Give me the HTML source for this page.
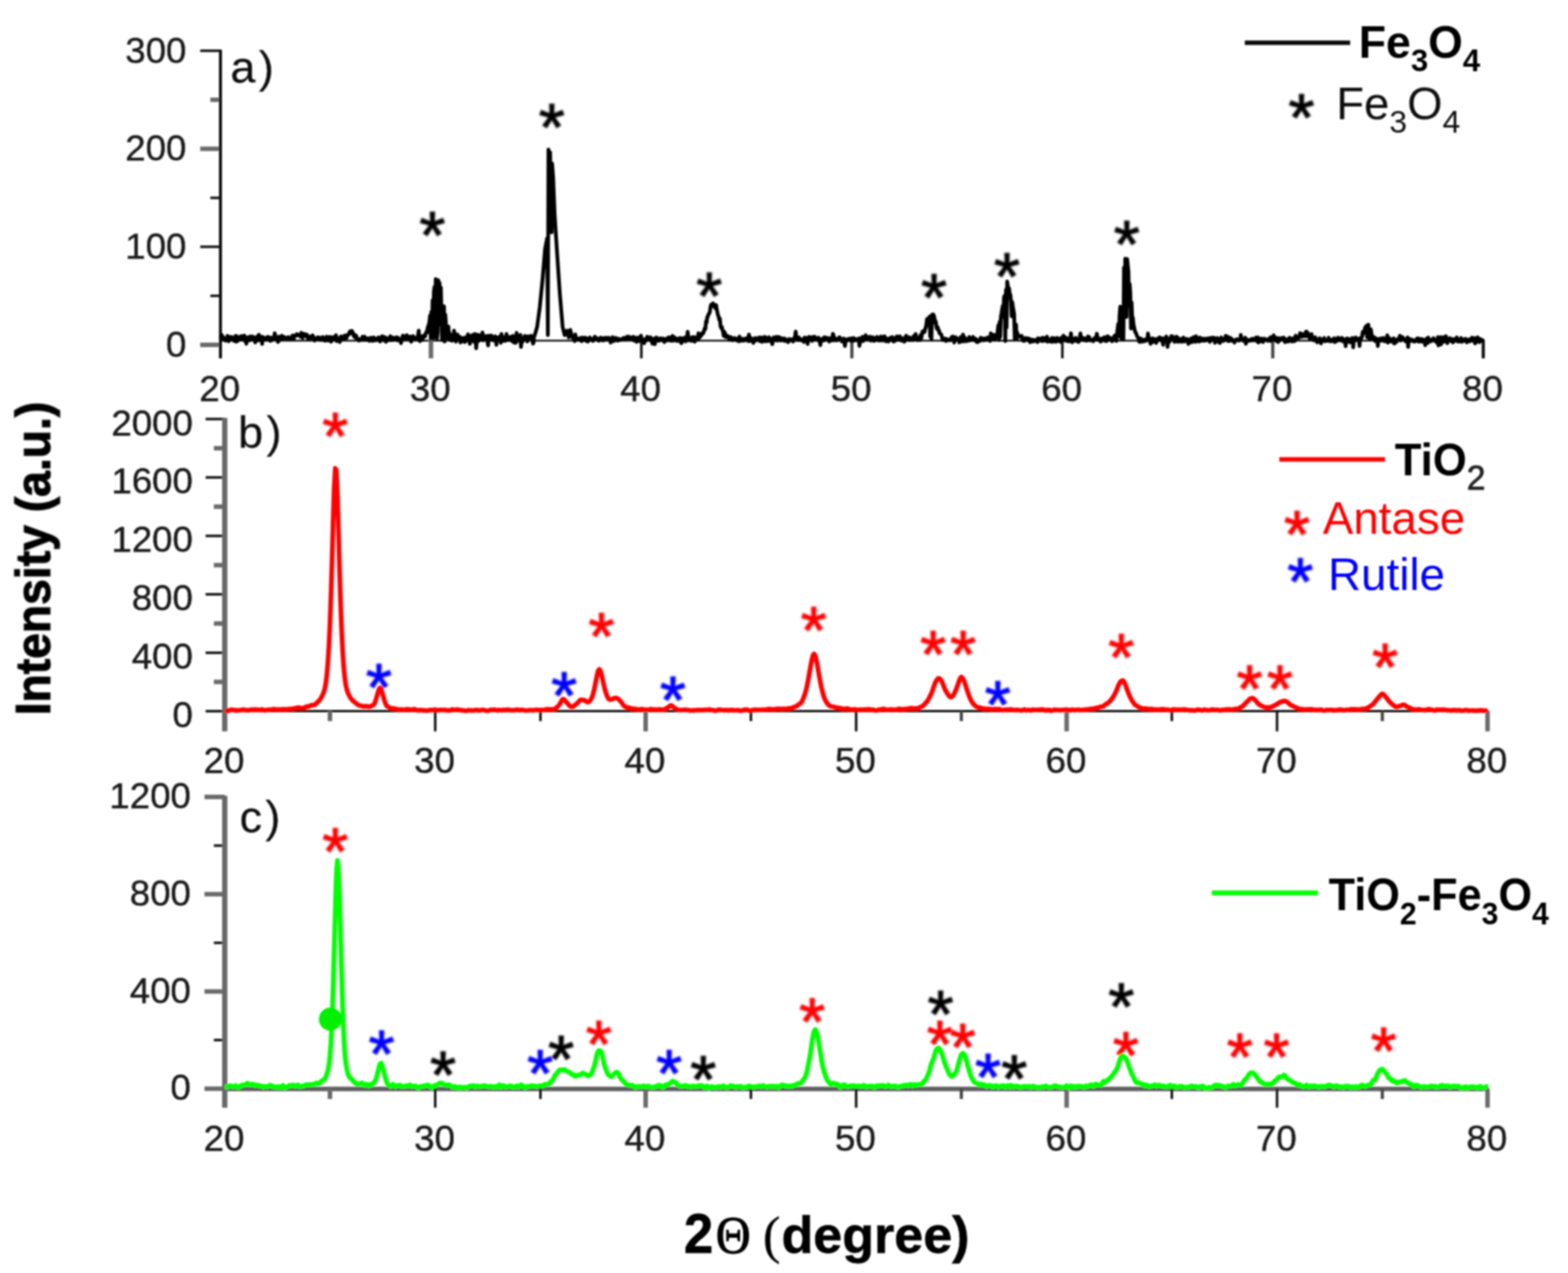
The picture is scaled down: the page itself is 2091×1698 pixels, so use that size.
<!DOCTYPE html>
<html lang="en"><head><meta charset="utf-8"><title>XRD patterns</title>
<style>html,body{margin:0;padding:0;background:#fff}body{width:2091px;height:1698px;overflow:hidden}svg{display:block}</style>
</head><body>
<svg width="2091" height="1698" viewBox="0 0 2091 1698" font-family='"Liberation Sans", sans-serif'>
<defs><filter id="bl" x="-2%" y="-2%" width="104%" height="104%"><feGaussianBlur stdDeviation="1.1"/></filter><filter id="bs" x="-50%" y="-50%" width="200%" height="200%"><feGaussianBlur stdDeviation="0.9"/></filter></defs>
<rect width="2091" height="1698" fill="#fff"/>
<g filter="url(#bl)">
<path d="M294.0 454.4 H1979.5" stroke="#000" stroke-width="2.4" fill="none"/>
<path d="M267.0 460.0 H294.0" stroke="#6b6b6b" stroke-width="6.0" fill="none"/>
<path d="M280.5 394.6 H294.0" stroke="#0c0c0c" stroke-width="3.3" fill="none"/>
<path d="M267.0 329.2 H294.0" stroke="#0c0c0c" stroke-width="3.3" fill="none"/>
<path d="M280.5 263.9 H294.0" stroke="#0c0c0c" stroke-width="3.3" fill="none"/>
<path d="M267.0 198.5 H294.0" stroke="#6b6b6b" stroke-width="6.0" fill="none"/>
<path d="M280.5 133.1 H294.0" stroke="#6b6b6b" stroke-width="6.0" fill="none"/>
<path d="M267.0 67.7 H294.0" stroke="#0c0c0c" stroke-width="3.3" fill="none"/>
<path d="M574.7 454.4 V478.0" stroke="#6b6b6b" stroke-width="6.0" fill="none"/>
<path d="M855.3 454.4 V478.0" stroke="#0c0c0c" stroke-width="3.3" fill="none"/>
<path d="M1136.0 454.4 V478.0" stroke="#444" stroke-width="4.2" fill="none"/>
<path d="M1416.7 454.4 V478.0" stroke="#0c0c0c" stroke-width="3.3" fill="none"/>
<path d="M1697.3 454.4 V478.0" stroke="#444" stroke-width="4.2" fill="none"/>
<path d="M1978.0 454.4 V478.0" stroke="#111" stroke-width="4.2" fill="none"/>
<path d="M294.0 66.3 V478.0" stroke="#111" stroke-width="4.0" fill="none"/>
<g font-size="48" fill="#1a1a1a" stroke="#1a1a1a" stroke-width="0.5">
<text transform="translate(248.6 475.8) scale(1.020 1)" text-anchor="end">0</text>
<text transform="translate(248.6 345.0) scale(1.020 1)" text-anchor="end">100</text>
<text transform="translate(248.6 214.2) scale(1.020 1)" text-anchor="end">200</text>
<text transform="translate(248.6 83.5) scale(1.020 1)" text-anchor="end">300</text>
<text transform="translate(293.0 535.1) scale(1.020 1)" text-anchor="middle">20</text>
<text transform="translate(573.7 535.1) scale(1.020 1)" text-anchor="middle">30</text>
<text transform="translate(854.3 535.1) scale(1.020 1)" text-anchor="middle">40</text>
<text transform="translate(1135.0 535.1) scale(1.020 1)" text-anchor="middle">50</text>
<text transform="translate(1415.7 535.1) scale(1.020 1)" text-anchor="middle">60</text>
<text transform="translate(1696.3 535.1) scale(1.020 1)" text-anchor="middle">70</text>
<text transform="translate(1977.0 535.1) scale(1.020 1)" text-anchor="middle">80</text>
</g>
<text x="307.3" y="110.3" font-size="60.0" fill="#111" letter-spacing="4.5" stroke="#111" stroke-width="0.3">a)</text>
<text x="576.6" y="344.3" font-size="89" fill="#000" stroke="#000" stroke-width="1.3" text-anchor="middle" filter="url(#bs)">*</text>
<text x="735.7" y="199.7" font-size="89" fill="#000" stroke="#000" stroke-width="1.3" text-anchor="middle" filter="url(#bs)">*</text>
<text x="945.7" y="424.6" font-size="89" fill="#000" stroke="#000" stroke-width="1.3" text-anchor="middle" filter="url(#bs)">*</text>
<text x="1245.5" y="426.6" font-size="89" fill="#000" stroke="#000" stroke-width="1.3" text-anchor="middle" filter="url(#bs)">*</text>
<text x="1342.9" y="399.0" font-size="89" fill="#000" stroke="#000" stroke-width="1.3" text-anchor="middle" filter="url(#bs)">*</text>
<text x="1502.6" y="355.5" font-size="89" fill="#000" stroke="#000" stroke-width="1.3" text-anchor="middle" filter="url(#bs)">*</text>
<path d="M294.0 451.2 L294.8 449.1 L295.7 446.9 L296.5 451.9 L297.4 449.3 L298.2 451.4 L299.1 452.0 L299.9 452.2 L300.7 454.4 L301.6 451.8 L302.4 451.3 L303.3 448.0 L304.1 452.1 L304.9 455.1 L305.8 454.0 L306.6 449.4 L307.5 450.8 L308.3 452.0 L309.2 449.5 L310.0 451.8 L310.8 453.2 L311.7 451.5 L312.5 454.8 L313.4 453.4 L314.2 447.9 L315.1 455.8 L315.9 448.4 L316.7 455.0 L317.6 451.7 L318.4 452.6 L319.3 451.5 L320.1 450.8 L320.9 448.6 L321.8 449.7 L322.6 452.3 L323.5 448.4 L324.3 451.8 L325.2 451.8 L326.0 447.6 L326.8 454.9 L327.7 451.7 L328.5 458.5 L329.4 451.8 L330.2 450.0 L331.0 452.3 L331.9 450.0 L332.7 454.1 L333.6 448.8 L334.4 451.8 L335.3 452.2 L336.1 451.8 L336.9 448.9 L337.8 452.7 L338.6 450.9 L339.5 450.1 L340.3 456.7 L341.2 452.3 L342.0 452.0 L342.8 453.9 L343.7 448.2 L344.5 453.9 L345.4 446.4 L346.2 453.8 L347.0 450.8 L347.9 452.1 L348.7 449.8 L349.6 458.8 L350.4 449.3 L351.3 451.0 L352.1 452.7 L352.9 451.7 L353.8 452.3 L354.6 450.5 L355.5 453.2 L356.3 452.8 L357.2 449.2 L358.0 451.3 L358.8 450.5 L359.7 450.2 L360.5 454.7 L361.4 450.5 L362.2 453.9 L363.0 450.4 L363.9 450.4 L364.7 452.5 L365.6 449.9 L366.4 444.4 L367.3 452.0 L368.1 451.6 L368.9 451.9 L369.8 451.5 L370.6 456.2 L371.5 449.1 L372.3 454.2 L373.1 451.4 L374.0 451.0 L374.8 450.2 L375.7 447.8 L376.5 452.3 L377.4 451.3 L378.2 449.1 L379.0 451.0 L379.9 450.5 L380.7 450.6 L381.6 450.8 L382.4 451.6 L383.3 450.2 L384.1 451.3 L384.9 449.8 L385.8 451.0 L386.6 451.9 L387.5 450.8 L388.3 451.4 L389.1 450.9 L390.0 447.6 L390.8 452.1 L391.7 452.5 L392.5 447.6 L393.4 447.5 L394.2 447.0 L395.0 447.8 L395.9 445.7 L396.7 446.7 L397.6 446.5 L398.4 447.0 L399.3 446.6 L400.1 448.8 L400.9 447.0 L401.8 443.9 L402.6 445.6 L403.5 450.8 L404.3 447.3 L405.1 445.3 L406.0 446.4 L406.8 445.9 L407.7 448.5 L408.5 448.3 L409.4 446.4 L410.2 450.8 L411.0 452.3 L411.9 449.6 L412.7 452.0 L413.6 448.9 L414.4 450.1 L415.2 449.7 L416.1 450.1 L416.9 447.3 L417.8 450.4 L418.6 452.6 L419.5 454.2 L420.3 451.1 L421.1 451.8 L422.0 451.5 L422.8 452.2 L423.7 449.9 L424.5 450.8 L425.4 451.4 L426.2 450.4 L427.0 451.5 L427.9 453.4 L428.7 452.7 L429.6 450.0 L430.4 449.7 L431.2 451.9 L432.1 452.7 L432.9 454.4 L433.8 454.2 L434.6 451.3 L435.5 449.1 L436.3 449.8 L437.1 454.3 L438.0 450.5 L438.8 450.8 L439.7 449.3 L440.5 453.2 L441.4 455.8 L442.2 454.6 L443.0 449.7 L443.9 451.5 L444.7 451.2 L445.6 450.8 L446.4 450.1 L447.2 448.1 L448.1 447.2 L448.9 455.0 L449.8 450.9 L450.6 454.5 L451.5 451.2 L452.3 452.1 L453.1 456.2 L454.0 451.3 L454.8 448.7 L455.7 450.8 L456.5 452.7 L457.3 450.4 L458.2 448.8 L459.0 451.5 L459.9 447.5 L460.7 451.0 L461.6 451.1 L462.4 450.1 L463.2 447.1 L464.1 446.0 L464.9 446.4 L465.8 444.7 L466.6 442.1 L467.5 444.8 L468.3 444.0 L469.1 441.3 L470.0 442.5 L470.8 444.4 L471.7 447.9 L472.5 449.2 L473.3 446.7 L474.2 450.5 L475.0 447.7 L475.9 452.0 L476.7 451.5 L477.6 452.0 L478.4 454.3 L479.2 453.2 L480.1 453.7 L480.9 452.2 L481.8 452.4 L482.6 453.1 L483.5 449.1 L484.3 452.9 L485.1 453.3 L486.0 449.0 L486.8 450.4 L487.7 451.8 L488.5 453.4 L489.3 451.3 L490.2 452.0 L491.0 451.4 L491.9 453.3 L492.7 454.7 L493.6 452.5 L494.4 450.5 L495.2 450.7 L496.1 451.1 L496.9 454.6 L497.8 454.3 L498.6 450.1 L499.5 452.5 L500.3 452.2 L501.1 454.0 L502.0 452.1 L502.8 451.6 L503.7 452.1 L504.5 450.0 L505.3 452.2 L506.2 455.0 L507.0 455.4 L507.9 450.3 L508.7 453.3 L509.6 448.5 L510.4 451.6 L511.2 453.7 L512.1 452.0 L512.9 449.6 L513.8 451.2 L514.6 455.9 L515.4 453.5 L516.3 451.0 L517.1 454.1 L518.0 451.6 L518.8 451.0 L519.7 453.3 L520.5 448.4 L521.3 450.1 L522.2 453.6 L523.0 451.8 L523.9 453.4 L524.7 450.4 L525.6 453.2 L526.4 451.3 L527.2 451.4 L528.1 450.6 L528.9 449.9 L529.8 454.0 L530.6 450.5 L531.4 451.6 L532.3 453.6 L533.1 452.0 L534.0 453.4 L534.8 457.7 L535.7 452.4 L536.5 450.3 L537.3 447.6 L538.2 452.4 L539.0 452.5 L539.9 450.3 L540.7 448.5 L541.6 448.9 L542.4 447.1 L543.2 450.5 L544.1 452.0 L544.9 450.4 L545.8 449.5 L546.6 448.9 L547.4 450.8 L548.3 455.9 L549.1 450.8 L550.0 452.1 L550.8 448.4 L551.7 449.4 L552.5 450.2 L553.3 451.3 L554.2 451.7 L555.0 451.1 L555.9 451.6 L556.7 450.2 L557.5 447.0 L558.4 441.0 L559.2 453.7 L560.1 455.0 L560.9 448.6 L561.8 453.4 L562.6 451.0 L563.4 453.3 L564.3 447.9 L565.1 447.7 L566.0 449.0 L566.8 449.0 L567.7 445.0 L568.5 442.9 L569.3 443.6 L570.2 437.8 L571.0 435.4 L571.9 432.8 L572.7 429.1 L573.5 421.1 L574.4 451.1 L575.2 416.0 L576.1 449.1 L576.9 400.6 L577.8 451.2 L578.6 389.5 L579.4 382.8 L580.3 410.0 L581.1 372.3 L582.0 443.6 L582.8 451.5 L583.7 442.4 L584.5 373.7 L585.3 427.9 L586.2 377.3 L587.0 433.0 L587.9 383.4 L588.7 414.9 L589.5 453.4 L590.4 452.8 L591.2 450.1 L592.1 408.5 L592.9 455.6 L593.8 419.4 L594.6 430.3 L595.4 450.5 L596.3 441.6 L597.1 448.3 L598.0 435.6 L598.8 452.2 L599.6 444.2 L600.5 453.4 L601.3 447.9 L602.2 447.7 L603.0 454.5 L603.9 446.9 L604.7 452.3 L605.5 441.1 L606.4 452.1 L607.2 452.3 L608.1 455.6 L608.9 451.3 L609.8 445.9 L610.6 448.6 L611.4 452.5 L612.3 451.6 L613.1 449.1 L614.0 456.8 L614.8 455.6 L615.6 453.7 L616.5 455.3 L617.3 450.9 L618.2 451.7 L619.0 451.5 L619.9 456.2 L620.7 449.9 L621.5 454.8 L622.4 451.4 L623.2 451.4 L624.1 446.0 L624.9 449.5 L625.8 451.6 L626.6 458.6 L627.4 455.2 L628.3 448.4 L629.1 447.7 L630.0 446.9 L630.8 454.4 L631.6 450.9 L632.5 456.2 L633.3 445.4 L634.2 448.2 L635.0 464.6 L635.9 452.8 L636.7 446.6 L637.5 453.5 L638.4 454.7 L639.2 447.1 L640.1 453.1 L640.9 450.5 L641.8 448.8 L642.6 452.9 L643.4 443.6 L644.3 454.0 L645.1 450.1 L646.0 450.5 L646.8 452.0 L647.6 448.2 L648.5 449.9 L649.3 448.4 L650.2 456.5 L651.0 460.7 L651.9 447.8 L652.7 453.8 L653.5 452.6 L654.4 448.7 L655.2 447.6 L656.1 452.2 L656.9 451.6 L657.7 453.9 L658.6 454.0 L659.4 449.4 L660.3 448.6 L661.1 451.2 L662.0 459.9 L662.8 450.8 L663.6 450.5 L664.5 449.9 L665.3 450.9 L666.2 449.4 L667.0 452.2 L667.9 457.2 L668.7 445.4 L669.5 449.7 L670.4 454.8 L671.2 452.6 L672.1 450.1 L672.9 451.8 L673.7 454.7 L674.6 454.0 L675.4 445.5 L676.3 450.9 L677.1 453.4 L678.0 453.5 L678.8 453.3 L679.6 449.4 L680.5 449.5 L681.3 452.8 L682.2 454.5 L683.0 454.0 L683.9 447.9 L684.7 456.4 L685.5 453.8 L686.4 451.2 L687.2 457.3 L688.1 457.0 L688.9 444.1 L689.7 453.8 L690.6 453.4 L691.4 451.9 L692.3 448.3 L693.1 455.0 L694.0 446.8 L694.8 462.8 L695.6 453.4 L696.5 456.4 L697.3 453.4 L698.2 453.7 L699.0 450.4 L699.8 448.2 L700.7 450.6 L701.5 449.4 L702.4 449.2 L703.2 455.4 L704.1 448.4 L704.9 450.5 L705.7 450.0 L706.6 451.0 L707.4 450.9 L708.3 447.8 L709.1 451.2 L710.0 452.5 L710.8 458.3 L711.6 456.8 L712.0 450.0 L714.0 444.0 L716.3 436.0 L719.8 410.0 L723.4 374.0 L726.9 332.0 L729.6 318.0 L730.6 447.0 L731.4 199.4 L732.6 300.0 L733.6 203.0 L735.6 310.0 L736.2 218.0 L737.6 236.0 L739.6 286.0 L743.0 339.0 L746.6 392.0 L750.3 436.0 L753.0 447.0 L756.0 441.0 L758.5 450.0 L760.5 440.0 L763.0 450.0 L763.8 449.4 L764.7 451.1 L765.5 452.9 L766.4 454.9 L767.2 446.1 L768.1 453.1 L768.9 452.6 L769.7 451.1 L770.6 452.9 L771.4 451.5 L772.3 452.2 L773.1 453.4 L773.9 452.1 L774.8 450.6 L775.6 455.1 L776.5 453.2 L777.3 450.4 L778.2 453.5 L779.0 452.8 L779.8 453.5 L780.7 450.4 L781.5 454.6 L782.4 453.5 L783.2 452.7 L784.0 455.6 L784.9 451.3 L785.7 453.0 L786.6 450.1 L787.4 453.0 L788.3 452.0 L789.1 453.7 L789.9 453.3 L790.8 454.7 L791.6 451.8 L792.5 450.6 L793.3 449.2 L794.2 452.7 L795.0 451.6 L795.8 451.1 L796.7 451.4 L797.5 453.7 L798.4 454.5 L799.2 452.5 L800.0 452.6 L800.9 450.4 L801.7 452.4 L802.6 452.0 L803.4 454.0 L804.3 451.0 L805.1 453.9 L805.9 451.9 L806.8 450.7 L807.6 450.8 L808.5 452.8 L809.3 450.6 L810.2 452.8 L811.0 452.9 L811.8 450.5 L812.7 451.7 L813.5 453.6 L814.4 456.9 L815.2 452.8 L816.0 453.5 L816.9 449.7 L817.7 453.3 L818.6 455.0 L819.4 453.2 L820.3 451.5 L821.1 450.7 L821.9 452.5 L822.8 453.7 L823.6 454.4 L824.5 451.9 L825.3 453.8 L826.2 452.7 L827.0 452.4 L827.8 453.2 L828.7 453.0 L829.5 452.4 L830.4 452.7 L831.2 450.8 L832.0 451.9 L832.9 450.7 L833.7 452.8 L834.6 451.4 L835.4 452.4 L836.3 449.0 L837.1 452.1 L837.9 450.7 L838.8 449.2 L839.6 449.8 L840.5 450.5 L841.3 452.3 L842.1 451.8 L843.0 451.7 L843.8 449.5 L844.7 449.2 L845.5 454.3 L846.4 453.1 L847.2 452.6 L848.0 450.7 L848.9 456.1 L849.7 451.8 L850.6 450.4 L851.4 454.6 L852.3 455.0 L853.1 453.2 L853.9 449.4 L854.8 447.8 L855.6 452.2 L856.5 453.2 L857.3 453.0 L858.1 452.8 L859.0 457.8 L859.8 452.8 L860.7 452.8 L861.5 454.4 L862.4 450.6 L863.2 449.1 L864.0 452.4 L864.9 452.1 L865.7 451.3 L866.6 453.7 L867.4 449.9 L868.3 452.0 L869.1 453.5 L869.9 458.4 L870.8 452.9 L871.6 451.8 L872.5 454.5 L873.3 459.1 L874.1 451.8 L875.0 450.2 L875.8 450.4 L876.7 452.3 L877.5 454.4 L878.4 453.5 L879.2 454.3 L880.0 451.5 L880.9 451.2 L881.7 452.6 L882.6 453.5 L883.4 452.4 L884.2 451.6 L885.1 451.9 L885.9 456.3 L886.8 452.6 L887.6 452.5 L888.5 452.2 L889.3 451.3 L890.1 454.1 L891.0 453.1 L891.8 450.0 L892.7 450.1 L893.5 450.4 L894.4 454.6 L895.2 450.3 L896.0 449.8 L896.9 448.2 L897.7 454.4 L898.6 452.4 L899.4 449.9 L900.2 450.8 L901.1 453.8 L901.9 451.5 L902.8 454.8 L903.6 451.9 L904.5 452.0 L905.3 451.4 L906.1 454.9 L907.0 450.8 L907.8 455.6 L908.7 457.7 L909.5 453.4 L910.4 451.2 L911.2 454.1 L912.0 451.7 L912.9 454.7 L913.7 449.9 L914.6 455.4 L915.4 449.8 L916.2 449.8 L917.1 442.6 L917.9 449.8 L918.8 450.3 L919.6 454.2 L920.5 452.3 L921.3 454.0 L922.1 454.5 L923.0 449.7 L923.8 454.3 L924.7 450.1 L925.5 449.7 L926.3 455.7 L927.2 454.5 L928.0 450.2 L928.9 452.8 L929.7 450.6 L930.6 452.9 L931.4 444.4 L932.2 451.0 L933.1 448.3 L933.9 449.2 L934.8 448.0 L935.6 445.6 L936.5 444.3 L937.3 445.0 L938.1 443.9 L939.0 440.8 L939.8 437.8 L940.7 438.7 L941.5 428.6 L942.3 430.4 L943.2 422.8 L944.0 422.1 L944.9 419.0 L945.7 418.2 L946.6 416.2 L947.4 410.1 L948.2 406.5 L949.1 407.9 L949.9 408.2 L950.8 404.6 L951.6 406.2 L952.5 409.0 L953.3 406.8 L954.1 411.3 L955.0 406.9 L955.8 412.6 L956.7 416.8 L957.5 420.6 L958.3 422.1 L959.2 426.9 L960.0 425.0 L960.9 435.2 L961.7 437.3 L962.6 436.1 L963.4 440.1 L964.2 441.8 L965.1 448.1 L965.9 442.5 L966.8 444.3 L967.6 449.6 L968.5 447.2 L969.3 449.8 L970.1 448.4 L971.0 448.5 L971.8 450.0 L972.7 453.1 L973.5 449.8 L974.3 449.6 L975.2 452.3 L976.0 450.8 L976.9 453.9 L977.7 451.5 L978.6 452.9 L979.4 450.8 L980.2 452.5 L981.1 451.6 L981.9 453.9 L982.8 453.4 L983.6 452.2 L984.4 451.5 L985.3 455.3 L986.1 449.0 L987.0 453.7 L987.8 454.4 L988.7 454.4 L989.5 452.6 L990.3 452.0 L991.2 453.8 L992.0 454.3 L992.9 452.2 L993.7 452.4 L994.6 451.4 L995.4 451.2 L996.2 452.3 L997.1 454.6 L997.9 451.7 L998.8 446.2 L999.6 454.9 L1000.4 450.1 L1001.3 453.7 L1002.1 454.6 L1003.0 451.8 L1003.8 453.7 L1004.7 457.4 L1005.5 451.9 L1006.3 452.3 L1007.2 450.9 L1008.0 454.3 L1008.9 452.8 L1009.7 452.9 L1010.6 451.4 L1011.4 452.4 L1012.2 450.2 L1013.1 455.0 L1013.9 454.9 L1014.8 451.1 L1015.6 450.1 L1016.4 455.9 L1017.3 451.0 L1018.1 452.6 L1019.0 451.0 L1019.8 449.4 L1020.7 455.4 L1021.5 450.1 L1022.3 452.1 L1023.2 452.8 L1024.0 454.9 L1024.9 451.2 L1025.7 449.8 L1026.5 453.6 L1027.4 452.4 L1028.2 455.8 L1029.1 453.4 L1029.9 459.1 L1030.8 451.6 L1031.6 450.2 L1032.4 450.6 L1033.3 454.0 L1034.1 450.7 L1035.0 449.4 L1035.8 452.3 L1036.7 454.2 L1037.5 451.7 L1038.3 449.4 L1039.2 453.4 L1040.0 451.2 L1040.9 454.1 L1041.7 450.8 L1042.5 453.9 L1043.4 452.6 L1044.2 452.3 L1045.1 453.9 L1045.9 451.3 L1046.8 454.8 L1047.6 454.2 L1048.4 452.7 L1049.3 454.2 L1050.1 454.9 L1051.0 456.4 L1051.8 454.3 L1052.7 452.2 L1053.5 452.8 L1054.3 453.8 L1055.2 453.2 L1056.0 453.8 L1056.9 452.7 L1057.7 455.5 L1058.5 451.9 L1059.4 450.5 L1060.2 449.4 L1061.1 442.2 L1061.9 450.8 L1062.8 453.3 L1063.6 452.1 L1064.4 453.3 L1065.3 450.0 L1066.1 453.6 L1067.0 452.2 L1067.8 452.6 L1068.6 453.9 L1069.5 453.9 L1070.3 452.8 L1071.2 454.2 L1072.0 456.1 L1072.9 450.3 L1073.7 451.4 L1074.5 453.0 L1075.4 453.2 L1076.2 450.9 L1077.1 458.7 L1077.9 451.6 L1078.8 449.4 L1079.6 449.7 L1080.4 451.7 L1081.3 451.9 L1082.1 453.5 L1083.0 454.7 L1083.8 449.4 L1084.6 452.3 L1085.5 449.9 L1086.3 449.1 L1087.2 451.1 L1088.0 452.9 L1088.9 451.9 L1089.7 451.6 L1090.5 452.3 L1091.4 450.3 L1092.2 455.2 L1093.1 453.2 L1093.9 460.3 L1094.8 453.8 L1095.6 452.5 L1096.4 454.2 L1097.3 454.3 L1098.1 450.8 L1099.0 454.0 L1099.8 449.9 L1100.6 451.0 L1101.5 452.3 L1102.3 450.6 L1103.2 452.1 L1104.0 452.7 L1104.9 451.1 L1105.7 455.6 L1106.5 453.0 L1107.4 453.9 L1108.2 450.7 L1109.1 454.1 L1109.9 452.8 L1110.7 445.3 L1111.6 447.3 L1112.4 453.9 L1113.3 452.5 L1114.1 451.4 L1115.0 452.6 L1115.8 454.1 L1116.6 453.3 L1117.5 453.3 L1118.3 451.9 L1119.2 449.9 L1120.0 450.1 L1120.9 453.1 L1121.7 452.5 L1122.5 455.3 L1123.4 454.3 L1124.2 453.5 L1125.1 451.6 L1125.9 455.7 L1126.7 461.5 L1127.6 455.6 L1128.4 452.7 L1129.3 454.4 L1130.1 454.1 L1131.0 452.7 L1131.8 451.8 L1132.6 452.7 L1133.5 452.9 L1134.3 451.7 L1135.2 455.1 L1136.0 451.2 L1136.9 454.8 L1137.7 451.9 L1138.5 450.9 L1139.4 454.3 L1140.2 452.9 L1141.1 452.4 L1141.9 453.2 L1142.7 453.9 L1143.6 452.6 L1144.4 453.1 L1145.3 451.4 L1146.1 461.4 L1147.0 451.2 L1147.8 454.0 L1148.6 453.6 L1149.5 455.0 L1150.3 449.2 L1151.2 454.8 L1152.0 452.8 L1152.9 452.2 L1153.7 451.8 L1154.5 447.1 L1155.4 452.1 L1156.2 452.6 L1157.1 449.6 L1157.9 450.9 L1158.7 452.7 L1159.6 452.7 L1160.4 449.1 L1161.3 454.4 L1162.1 450.8 L1163.0 450.1 L1163.8 449.9 L1164.6 450.2 L1165.5 454.8 L1166.3 451.8 L1167.2 453.7 L1168.0 450.8 L1168.8 451.0 L1169.7 449.5 L1170.5 451.8 L1171.4 454.2 L1172.2 451.2 L1173.1 454.0 L1173.9 452.0 L1174.7 448.9 L1175.6 454.2 L1176.4 454.2 L1177.3 451.4 L1178.1 449.4 L1179.0 452.6 L1179.8 448.6 L1180.6 455.0 L1181.5 455.1 L1182.3 451.6 L1183.2 452.8 L1184.0 451.8 L1184.8 455.6 L1185.7 452.8 L1186.5 452.5 L1187.4 450.7 L1188.2 452.0 L1189.1 453.7 L1189.9 449.6 L1190.7 450.4 L1191.6 455.5 L1192.4 453.6 L1193.3 454.8 L1194.1 453.0 L1195.0 451.5 L1195.8 448.7 L1196.6 449.5 L1197.5 453.2 L1198.3 451.8 L1199.2 453.2 L1200.0 448.6 L1200.8 451.8 L1201.7 450.8 L1202.5 454.4 L1203.4 452.9 L1204.2 453.2 L1205.1 451.1 L1205.9 455.8 L1206.7 450.8 L1207.6 451.8 L1208.4 447.7 L1209.3 453.2 L1210.1 451.5 L1210.9 451.9 L1211.8 453.2 L1212.6 449.9 L1213.5 453.6 L1214.3 452.6 L1215.2 451.0 L1216.0 452.9 L1216.8 452.5 L1217.7 453.6 L1218.5 448.2 L1219.4 449.6 L1220.2 452.3 L1221.1 445.4 L1221.9 453.0 L1222.7 452.3 L1223.6 453.6 L1224.4 452.2 L1225.3 450.2 L1226.1 451.5 L1226.9 453.5 L1227.8 446.7 L1228.6 451.3 L1229.5 445.5 L1230.3 442.0 L1231.2 442.1 L1232.0 441.5 L1232.8 443.1 L1233.7 438.7 L1234.5 436.9 L1235.4 432.6 L1236.2 425.5 L1237.1 428.6 L1237.9 426.3 L1238.7 425.1 L1239.6 422.2 L1240.4 449.0 L1241.3 422.1 L1242.1 452.7 L1242.9 419.7 L1243.8 420.4 L1244.6 419.5 L1245.5 421.3 L1246.3 425.2 L1247.2 430.9 L1248.0 428.9 L1248.8 436.7 L1249.7 438.9 L1250.5 436.4 L1251.4 440.5 L1252.2 440.7 L1253.0 444.7 L1253.9 444.9 L1254.7 445.5 L1255.6 447.4 L1256.4 450.6 L1257.3 453.5 L1258.1 452.0 L1258.9 451.8 L1259.8 451.6 L1260.6 451.8 L1261.5 454.9 L1262.3 453.0 L1263.2 452.6 L1264.0 452.7 L1264.8 453.8 L1265.7 453.8 L1266.5 454.0 L1267.4 453.7 L1268.2 451.8 L1269.0 449.8 L1269.9 451.2 L1270.7 448.8 L1271.6 452.1 L1272.4 456.9 L1273.3 453.7 L1274.1 449.7 L1274.9 450.9 L1275.8 450.9 L1276.6 452.0 L1277.5 452.5 L1278.3 452.9 L1279.2 456.6 L1280.0 456.1 L1280.8 449.8 L1281.7 451.5 L1282.5 455.4 L1283.4 453.2 L1284.2 446.2 L1285.0 455.4 L1285.9 449.4 L1286.7 450.8 L1287.6 454.9 L1288.4 455.1 L1289.3 452.4 L1290.1 453.5 L1290.9 452.5 L1291.8 454.4 L1292.6 449.5 L1293.5 451.6 L1294.3 451.4 L1295.1 453.6 L1296.0 452.9 L1296.8 452.7 L1297.7 449.4 L1298.5 453.6 L1299.4 451.8 L1300.2 452.4 L1301.0 451.8 L1301.9 455.7 L1302.7 453.3 L1303.6 456.4 L1304.4 455.7 L1305.3 454.8 L1306.1 453.5 L1306.9 454.7 L1307.8 450.5 L1308.6 453.4 L1309.5 453.1 L1310.3 452.4 L1311.1 451.6 L1312.0 454.0 L1312.8 451.5 L1313.7 453.3 L1314.5 452.0 L1315.4 453.0 L1316.2 451.2 L1317.0 450.1 L1317.9 453.2 L1318.7 450.9 L1319.6 453.0 L1320.4 454.8 L1321.3 444.6 L1322.1 451.5 L1322.9 452.4 L1323.8 448.4 L1324.6 451.1 L1325.5 446.6 L1326.3 452.9 L1327.1 451.6 L1328.0 448.0 L1328.8 446.3 L1329.7 449.5 L1330.5 440.7 L1331.4 433.7 L1332.2 453.4 L1333.0 429.6 L1333.9 449.4 L1334.7 422.4 L1335.6 417.9 L1336.4 412.2 L1337.3 407.9 L1338.1 423.0 L1338.9 396.3 L1339.8 394.3 L1340.6 455.0 L1341.5 386.6 L1342.3 437.0 L1343.1 375.5 L1344.0 381.0 L1344.8 385.3 L1345.7 384.8 L1346.5 392.2 L1347.4 393.0 L1348.2 401.4 L1349.0 422.0 L1349.9 403.0 L1350.7 408.9 L1351.6 414.0 L1352.4 419.2 L1353.2 452.6 L1354.1 450.6 L1354.9 432.8 L1355.8 452.5 L1356.6 443.5 L1357.5 450.1 L1358.3 447.4 L1359.1 448.1 L1360.0 448.8 L1360.8 448.3 L1361.7 448.8 L1362.5 448.1 L1363.4 453.6 L1364.2 454.1 L1365.0 451.5 L1365.9 454.7 L1366.7 452.7 L1367.6 450.8 L1368.4 452.7 L1369.2 453.5 L1370.1 453.5 L1370.9 451.2 L1371.8 451.6 L1372.6 452.7 L1373.5 456.4 L1374.3 452.8 L1375.1 455.3 L1376.0 453.1 L1376.8 455.7 L1377.7 453.4 L1378.5 454.9 L1379.4 455.1 L1380.2 453.6 L1381.0 453.3 L1381.9 453.7 L1382.7 454.1 L1383.6 456.3 L1384.4 451.1 L1385.2 454.0 L1386.1 452.1 L1386.9 453.9 L1387.8 452.7 L1388.6 451.4 L1389.5 454.9 L1390.3 450.5 L1391.1 454.9 L1392.0 450.9 L1392.8 453.9 L1393.7 452.2 L1394.5 454.5 L1395.3 450.7 L1396.2 449.0 L1397.0 455.8 L1397.9 452.7 L1398.7 453.9 L1399.6 452.8 L1400.4 452.5 L1401.2 455.7 L1402.1 454.6 L1402.9 450.7 L1403.8 456.1 L1404.6 452.0 L1405.5 451.2 L1406.3 454.1 L1407.1 455.2 L1408.0 455.8 L1408.8 452.9 L1409.7 450.5 L1410.5 454.8 L1411.3 453.8 L1412.2 454.4 L1413.0 453.5 L1413.9 455.9 L1414.7 450.7 L1415.6 451.8 L1416.4 452.6 L1417.2 453.4 L1418.1 447.8 L1418.9 454.1 L1419.8 450.5 L1420.6 449.8 L1421.5 452.3 L1422.3 454.6 L1423.1 453.9 L1424.0 451.3 L1424.8 455.2 L1425.7 453.8 L1426.5 455.0 L1427.3 451.8 L1428.2 444.4 L1429.0 452.2 L1429.9 456.6 L1430.7 452.7 L1431.6 452.3 L1432.4 452.3 L1433.2 454.3 L1434.1 450.7 L1434.9 450.7 L1435.8 455.1 L1436.6 454.2 L1437.4 453.9 L1438.3 456.1 L1439.1 453.9 L1440.0 450.3 L1440.8 444.7 L1441.7 453.5 L1442.5 450.4 L1443.3 453.0 L1444.2 450.8 L1445.0 453.6 L1445.9 453.9 L1446.7 451.3 L1447.6 452.0 L1448.4 453.2 L1449.2 454.3 L1450.1 453.2 L1450.9 448.8 L1451.8 450.5 L1452.6 449.6 L1453.4 454.1 L1454.3 453.5 L1455.1 453.2 L1456.0 453.6 L1456.8 453.5 L1457.7 455.2 L1458.5 452.8 L1459.3 451.0 L1460.2 451.4 L1461.0 453.0 L1461.9 450.4 L1462.7 445.1 L1463.6 450.0 L1464.4 452.9 L1465.2 451.5 L1466.1 454.3 L1466.9 452.3 L1467.8 455.6 L1468.6 452.2 L1469.4 451.3 L1470.3 452.2 L1471.1 453.9 L1472.0 453.8 L1472.8 449.8 L1473.7 453.9 L1474.5 454.8 L1475.3 452.1 L1476.2 454.7 L1477.0 448.6 L1477.9 453.3 L1478.7 449.7 L1479.6 451.4 L1480.4 451.9 L1481.2 451.1 L1482.1 453.0 L1482.9 455.1 L1483.8 454.6 L1484.6 452.6 L1485.4 449.8 L1486.3 447.9 L1487.1 447.4 L1488.0 448.9 L1488.8 454.7 L1489.7 444.3 L1490.5 437.5 L1491.3 431.9 L1492.2 448.6 L1493.0 421.5 L1493.9 409.1 L1494.7 438.0 L1495.5 452.1 L1496.4 452.2 L1497.2 429.0 L1498.1 453.1 L1498.9 357.0 L1499.8 419.7 L1500.6 345.0 L1501.4 419.7 L1502.3 422.7 L1503.1 345.5 L1504.0 354.4 L1504.8 362.2 L1505.7 407.3 L1506.5 378.8 L1507.3 390.4 L1508.2 438.3 L1509.0 403.3 L1509.9 424.9 L1510.7 423.7 L1511.5 432.1 L1512.4 436.4 L1513.2 440.6 L1514.1 443.3 L1514.9 444.1 L1515.8 446.8 L1516.6 449.0 L1517.4 449.8 L1518.3 451.5 L1519.1 455.7 L1520.0 451.4 L1520.8 456.1 L1521.7 451.7 L1522.5 453.2 L1523.3 454.1 L1524.2 455.6 L1525.0 454.2 L1525.9 453.9 L1526.7 452.9 L1527.5 454.8 L1528.4 453.8 L1529.2 454.1 L1530.1 452.0 L1530.9 444.8 L1531.8 450.5 L1532.6 451.0 L1533.4 453.9 L1534.3 458.5 L1535.1 453.5 L1536.0 453.5 L1536.8 451.4 L1537.6 456.1 L1538.5 453.4 L1539.3 452.0 L1540.2 453.8 L1541.0 454.0 L1541.9 457.4 L1542.7 454.7 L1543.5 451.9 L1544.4 452.1 L1545.2 452.8 L1546.1 450.0 L1546.9 451.9 L1547.8 453.9 L1548.6 452.3 L1549.4 451.2 L1550.3 454.5 L1551.1 460.0 L1552.0 451.4 L1552.8 452.7 L1553.6 454.1 L1554.5 452.1 L1555.3 448.9 L1556.2 452.0 L1557.0 462.7 L1557.9 453.3 L1558.7 452.5 L1559.5 456.0 L1560.4 451.7 L1561.2 449.8 L1562.1 448.5 L1562.9 450.0 L1563.8 448.8 L1564.6 452.4 L1565.4 453.0 L1566.3 456.0 L1567.1 454.9 L1568.0 455.1 L1568.8 449.0 L1569.6 450.4 L1570.5 450.2 L1571.3 456.0 L1572.2 451.6 L1573.0 454.3 L1573.9 454.0 L1574.7 453.8 L1575.5 455.8 L1576.4 451.7 L1577.2 455.6 L1578.1 450.3 L1578.9 453.4 L1579.7 455.4 L1580.6 454.4 L1581.4 454.5 L1582.3 452.0 L1583.1 452.2 L1584.0 454.3 L1584.8 458.7 L1585.6 454.9 L1586.5 453.2 L1587.3 455.4 L1588.2 451.5 L1589.0 456.6 L1589.9 455.8 L1590.7 453.1 L1591.5 449.9 L1592.4 451.6 L1593.2 451.3 L1594.1 456.1 L1594.9 448.4 L1595.7 450.9 L1596.6 454.9 L1597.4 452.1 L1598.3 452.7 L1599.1 455.6 L1600.0 450.2 L1600.8 451.2 L1601.6 454.6 L1602.5 454.1 L1603.3 454.2 L1604.2 451.5 L1605.0 454.3 L1605.9 454.5 L1606.7 451.8 L1607.5 454.2 L1608.4 453.5 L1609.2 451.9 L1610.1 453.7 L1610.9 451.2 L1611.7 451.9 L1612.6 452.0 L1613.4 456.0 L1614.3 450.8 L1615.1 453.7 L1616.0 451.5 L1616.8 450.4 L1617.6 450.8 L1618.5 453.8 L1619.3 450.6 L1620.2 457.2 L1621.0 452.1 L1621.8 454.2 L1622.7 454.1 L1623.5 450.9 L1624.4 453.4 L1625.2 456.4 L1626.1 452.9 L1626.9 457.5 L1627.7 453.7 L1628.6 450.1 L1629.4 454.1 L1630.3 453.0 L1631.1 454.8 L1632.0 454.4 L1632.8 452.0 L1633.6 453.6 L1634.5 447.9 L1635.3 451.7 L1636.2 453.2 L1637.0 448.9 L1637.8 454.9 L1638.7 450.4 L1639.5 454.8 L1640.4 450.5 L1641.2 453.1 L1642.1 454.0 L1642.9 452.0 L1643.7 454.7 L1644.6 454.5 L1645.4 455.5 L1646.3 456.9 L1647.1 454.1 L1648.0 454.3 L1648.8 452.7 L1649.6 452.5 L1650.5 453.3 L1651.3 453.2 L1652.2 454.3 L1653.0 453.1 L1653.8 453.5 L1654.7 446.7 L1655.5 452.3 L1656.4 452.4 L1657.2 453.0 L1658.1 454.6 L1658.9 452.3 L1659.7 453.4 L1660.6 450.3 L1661.4 458.5 L1662.3 455.8 L1663.1 452.9 L1664.0 454.5 L1664.8 453.7 L1665.6 454.1 L1666.5 454.6 L1667.3 453.1 L1668.2 453.4 L1669.0 454.0 L1669.8 451.8 L1670.7 453.2 L1671.5 454.0 L1672.4 454.1 L1673.2 451.5 L1674.1 451.8 L1674.9 450.4 L1675.7 453.9 L1676.6 455.7 L1677.4 450.0 L1678.3 456.8 L1679.1 455.1 L1679.9 452.0 L1680.8 455.3 L1681.6 453.5 L1682.5 451.7 L1683.3 453.5 L1684.2 456.3 L1685.0 454.4 L1685.8 451.7 L1686.7 454.0 L1687.5 452.4 L1688.4 453.5 L1689.2 453.3 L1690.1 452.6 L1690.9 454.6 L1691.7 452.9 L1692.6 452.3 L1693.4 451.4 L1694.3 449.9 L1695.1 455.0 L1695.9 453.0 L1696.8 453.1 L1697.6 451.6 L1698.5 447.2 L1699.3 451.5 L1700.2 450.6 L1701.0 454.5 L1701.8 450.6 L1702.7 452.5 L1703.5 451.2 L1704.4 456.4 L1705.2 451.1 L1706.1 453.2 L1706.9 453.8 L1707.7 451.3 L1708.6 451.9 L1709.4 450.9 L1710.3 452.6 L1711.1 452.9 L1711.9 450.4 L1712.8 451.9 L1713.6 456.4 L1714.5 455.5 L1715.3 452.8 L1716.2 452.7 L1717.0 454.3 L1717.8 455.7 L1718.7 454.3 L1719.5 450.5 L1720.4 454.5 L1721.2 452.6 L1722.0 451.6 L1722.9 455.5 L1723.7 453.5 L1724.6 451.5 L1725.4 450.9 L1726.3 455.1 L1727.1 454.3 L1727.9 447.8 L1728.8 450.0 L1729.6 450.1 L1730.5 451.1 L1731.3 451.2 L1732.2 450.6 L1733.0 448.0 L1733.8 444.4 L1734.7 447.3 L1735.5 445.4 L1736.4 449.3 L1737.2 448.4 L1738.0 445.8 L1738.9 447.3 L1739.7 447.6 L1740.6 448.7 L1741.4 442.4 L1742.3 442.3 L1743.1 448.3 L1743.9 443.8 L1744.8 448.7 L1745.6 447.4 L1746.5 451.7 L1747.3 448.7 L1748.2 446.3 L1749.0 445.7 L1749.8 451.2 L1750.7 451.3 L1751.5 453.2 L1752.4 454.1 L1753.2 452.1 L1754.0 449.9 L1754.9 452.4 L1755.7 453.9 L1756.6 456.6 L1757.4 454.7 L1758.3 454.2 L1759.1 452.8 L1759.9 451.1 L1760.8 454.8 L1761.6 458.0 L1762.5 453.3 L1763.3 454.7 L1764.1 454.5 L1765.0 454.6 L1765.8 450.7 L1766.7 455.1 L1767.5 453.9 L1768.4 454.7 L1769.2 454.1 L1770.0 453.7 L1770.9 454.6 L1771.7 450.5 L1772.6 453.4 L1773.4 454.0 L1774.3 455.3 L1775.1 453.3 L1775.9 453.1 L1776.8 453.2 L1777.6 455.0 L1778.5 453.5 L1779.3 451.1 L1780.1 456.4 L1781.0 453.4 L1781.8 453.1 L1782.7 455.0 L1783.5 452.7 L1784.4 450.3 L1785.2 453.3 L1786.0 452.5 L1786.9 453.8 L1787.7 452.2 L1788.6 454.1 L1789.4 450.6 L1790.3 453.5 L1791.1 455.3 L1791.9 453.3 L1792.8 452.7 L1793.6 453.7 L1794.5 461.7 L1795.3 454.6 L1796.1 451.5 L1797.0 455.5 L1797.8 451.7 L1798.7 453.1 L1799.5 454.4 L1800.4 456.6 L1801.2 453.0 L1802.0 451.9 L1802.9 451.2 L1803.7 450.9 L1804.6 463.3 L1805.4 452.4 L1806.2 454.9 L1807.1 453.8 L1807.9 450.2 L1808.8 451.4 L1809.6 453.5 L1810.5 452.1 L1811.3 454.5 L1812.1 451.8 L1813.0 461.4 L1813.8 450.9 L1814.7 453.2 L1815.5 450.8 L1816.4 449.2 L1817.2 442.7 L1818.0 445.1 L1818.9 443.1 L1819.7 439.6 L1820.6 436.6 L1821.4 437.8 L1822.2 434.6 L1823.1 449.9 L1823.9 447.8 L1824.8 433.1 L1825.6 449.8 L1826.5 452.2 L1827.3 451.2 L1828.1 439.3 L1829.0 445.7 L1829.8 447.8 L1830.7 449.5 L1831.5 451.9 L1832.4 450.0 L1833.2 450.2 L1834.0 455.0 L1834.9 454.0 L1835.7 451.7 L1836.6 452.8 L1837.4 461.6 L1838.2 453.6 L1839.1 452.3 L1839.9 453.9 L1840.8 451.5 L1841.6 454.4 L1842.5 454.1 L1843.3 451.3 L1844.1 453.2 L1845.0 450.8 L1845.8 455.0 L1846.7 454.1 L1847.5 454.5 L1848.4 455.3 L1849.2 454.2 L1850.0 447.2 L1850.9 457.0 L1851.7 450.5 L1852.6 450.9 L1853.4 453.7 L1854.2 455.0 L1855.1 452.6 L1855.9 455.6 L1856.8 453.7 L1857.6 453.0 L1858.5 451.3 L1859.3 458.3 L1860.1 453.6 L1861.0 455.3 L1861.8 456.7 L1862.7 453.4 L1863.5 452.5 L1864.3 454.1 L1865.2 452.4 L1866.0 450.3 L1866.9 447.9 L1867.7 454.3 L1868.6 452.3 L1869.4 451.9 L1870.2 449.5 L1871.1 451.9 L1871.9 451.8 L1872.8 452.5 L1873.6 454.5 L1874.5 455.3 L1875.3 454.0 L1876.1 452.4 L1877.0 450.1 L1877.8 462.7 L1878.7 451.4 L1879.5 455.6 L1880.3 454.1 L1881.2 453.1 L1882.0 454.1 L1882.9 452.8 L1883.7 454.8 L1884.6 455.0 L1885.4 455.2 L1886.2 455.7 L1887.1 453.8 L1887.9 454.2 L1888.8 452.7 L1889.6 451.6 L1890.5 455.0 L1891.3 451.2 L1892.1 455.7 L1893.0 455.3 L1893.8 452.7 L1894.7 453.4 L1895.5 452.2 L1896.3 455.9 L1897.2 452.7 L1898.0 453.7 L1898.9 454.4 L1899.7 453.6 L1900.6 460.4 L1901.4 455.6 L1902.2 452.0 L1903.1 451.2 L1903.9 457.6 L1904.8 450.3 L1905.6 455.9 L1906.4 454.5 L1907.3 455.1 L1908.1 453.4 L1909.0 454.8 L1909.8 453.2 L1910.7 452.9 L1911.5 451.0 L1912.3 453.0 L1913.2 454.3 L1914.0 455.2 L1914.9 454.6 L1915.7 456.7 L1916.6 454.8 L1917.4 449.8 L1918.2 460.7 L1919.1 453.8 L1919.9 454.9 L1920.8 449.8 L1921.6 459.4 L1922.4 455.2 L1923.3 450.0 L1924.1 454.9 L1925.0 456.1 L1925.8 452.3 L1926.7 449.4 L1927.5 453.2 L1928.3 448.5 L1929.2 455.5 L1930.0 457.8 L1930.9 453.6 L1931.7 453.2 L1932.6 454.4 L1933.4 451.0 L1934.2 451.4 L1935.1 454.1 L1935.9 455.4 L1936.8 454.7 L1937.6 456.7 L1938.4 452.2 L1939.3 454.4 L1940.1 454.6 L1941.0 454.3 L1941.8 452.2 L1942.7 450.0 L1943.5 454.8 L1944.3 455.7 L1945.2 453.0 L1946.0 455.4 L1946.9 453.8 L1947.7 453.6 L1948.5 450.8 L1949.4 456.0 L1950.2 453.3 L1951.1 453.3 L1951.9 453.0 L1952.8 454.6 L1953.6 452.1 L1954.4 452.1 L1955.3 453.6 L1956.1 456.7 L1957.0 453.0 L1957.8 453.0 L1958.7 455.2 L1959.5 452.7 L1960.3 455.1 L1961.2 454.6 L1962.0 452.5 L1962.9 450.4 L1963.7 453.2 L1964.5 454.6 L1965.4 454.0 L1966.2 451.0 L1967.1 458.0 L1967.9 456.8 L1968.8 455.9 L1969.6 454.5 L1970.4 450.0 L1971.3 451.2 L1972.1 454.5 L1973.0 456.3 L1973.8 452.2 L1974.7 452.5 L1975.5 454.6 L1976.3 454.5 L1977.2 453.8 L1978.0 455.4" fill="none" stroke="#000" stroke-width="5" stroke-linejoin="round"/>
<path d="M1660 57 H1800.5" stroke="#111" stroke-width="6"/>
<text transform="translate(1812.0 76.5) scale(0.975 1)" font-size="61.0" font-weight="bold" fill="#000"><tspan dy="0.0">Fe</tspan><tspan font-size="42.7" dy="18.9">3</tspan><tspan dy="-18.9">O</tspan><tspan font-size="42.7" dy="18.9">4</tspan></text>
<text x="1735.6" y="187.4" font-size="89" fill="#000" stroke="#000" stroke-width="1.3" text-anchor="middle" filter="url(#bs)">*</text>
<text transform="translate(1782.0 158.8) scale(0.995 1)" font-size="61.0" font-weight="normal" fill="#111"><tspan dy="0.0">Fe</tspan><tspan font-size="42.7" dy="17.7">3</tspan><tspan dy="-17.7">O</tspan><tspan font-size="42.7" dy="17.7">4</tspan></text>
<path d="M299.7 948.4 H1985.2" stroke="#111" stroke-width="3.0" fill="none"/>
<path d="M274.2 948.6 H299.7" stroke="#0c0c0c" stroke-width="3.3" fill="none"/>
<path d="M285.2 909.6 H299.7" stroke="#6b6b6b" stroke-width="6.0" fill="none"/>
<path d="M274.2 870.7 H299.7" stroke="#0c0c0c" stroke-width="3.3" fill="none"/>
<path d="M285.2 831.7 H299.7" stroke="#6b6b6b" stroke-width="6.0" fill="none"/>
<path d="M274.2 792.7 H299.7" stroke="#0c0c0c" stroke-width="3.3" fill="none"/>
<path d="M285.2 753.8 H299.7" stroke="#6b6b6b" stroke-width="6.0" fill="none"/>
<path d="M274.2 714.8 H299.7" stroke="#0c0c0c" stroke-width="3.3" fill="none"/>
<path d="M285.2 675.8 H299.7" stroke="#6b6b6b" stroke-width="6.0" fill="none"/>
<path d="M274.2 636.8 H299.7" stroke="#0c0c0c" stroke-width="3.3" fill="none"/>
<path d="M285.2 597.9 H299.7" stroke="#6b6b6b" stroke-width="6.0" fill="none"/>
<path d="M274.2 558.9 H299.7" stroke="#0c0c0c" stroke-width="3.3" fill="none"/>
<path d="M440.0 948.4 V961.9" stroke="#6b6b6b" stroke-width="6.0" fill="none"/>
<path d="M580.4 948.4 V975.5" stroke="#0c0c0c" stroke-width="3.3" fill="none"/>
<path d="M720.7 948.4 V961.9" stroke="#0c0c0c" stroke-width="3.3" fill="none"/>
<path d="M861.0 948.4 V975.5" stroke="#6b6b6b" stroke-width="6.0" fill="none"/>
<path d="M1001.4 948.4 V961.9" stroke="#0c0c0c" stroke-width="3.3" fill="none"/>
<path d="M1141.7 948.4 V975.5" stroke="#0c0c0c" stroke-width="3.3" fill="none"/>
<path d="M1282.0 948.4 V961.9" stroke="#444" stroke-width="4.2" fill="none"/>
<path d="M1422.4 948.4 V975.5" stroke="#6b6b6b" stroke-width="6.0" fill="none"/>
<path d="M1562.7 948.4 V961.9" stroke="#0c0c0c" stroke-width="3.3" fill="none"/>
<path d="M1703.0 948.4 V975.5" stroke="#0c0c0c" stroke-width="3.3" fill="none"/>
<path d="M1843.4 948.4 V961.9" stroke="#444" stroke-width="4.2" fill="none"/>
<path d="M1983.7 948.4 V975.5" stroke="#6b6b6b" stroke-width="6.0" fill="none"/>
<path d="M299.7 557.5 V975.5" stroke="#686868" stroke-width="7.0" fill="none"/>
<g font-size="48" fill="#1a1a1a" stroke="#1a1a1a" stroke-width="0.5">
<text transform="translate(257.3 970.2) scale(1.020 1)" text-anchor="end">0</text>
<text transform="translate(257.3 892.2) scale(1.020 1)" text-anchor="end">400</text>
<text transform="translate(257.3 814.3) scale(1.020 1)" text-anchor="end">800</text>
<text transform="translate(257.3 736.3) scale(1.020 1)" text-anchor="end">1200</text>
<text transform="translate(257.3 658.4) scale(1.020 1)" text-anchor="end">1600</text>
<text transform="translate(257.3 580.5) scale(1.020 1)" text-anchor="end">2000</text>
<text transform="translate(298.7 1030.6) scale(1.020 1)" text-anchor="middle">20</text>
<text transform="translate(579.4 1030.6) scale(1.020 1)" text-anchor="middle">30</text>
<text transform="translate(860.0 1030.6) scale(1.020 1)" text-anchor="middle">40</text>
<text transform="translate(1140.7 1030.6) scale(1.020 1)" text-anchor="middle">50</text>
<text transform="translate(1421.4 1030.6) scale(1.020 1)" text-anchor="middle">60</text>
<text transform="translate(1702.0 1030.6) scale(1.020 1)" text-anchor="middle">70</text>
<text transform="translate(1982.7 1030.6) scale(1.020 1)" text-anchor="middle">80</text>
</g>
<text x="317.6" y="597.3" font-size="60.0" fill="#111" letter-spacing="4.5" stroke="#111" stroke-width="0.3">b)</text>
<text x="447.0" y="612.1" font-size="89" fill="#ff0000" stroke="#ff0000" stroke-width="1.3" text-anchor="middle" filter="url(#bs)">*</text>
<text x="802.0" y="878.9" font-size="89" fill="#ff0000" stroke="#ff0000" stroke-width="1.3" text-anchor="middle" filter="url(#bs)">*</text>
<text x="1085.0" y="871.3" font-size="89" fill="#ff0000" stroke="#ff0000" stroke-width="1.3" text-anchor="middle" filter="url(#bs)">*</text>
<text x="1244.2" y="903.0" font-size="89" fill="#ff0000" stroke="#ff0000" stroke-width="1.3" text-anchor="middle" filter="url(#bs)">*</text>
<text x="1284.4" y="903.0" font-size="89" fill="#ff0000" stroke="#ff0000" stroke-width="1.3" text-anchor="middle" filter="url(#bs)">*</text>
<text x="1495.2" y="907.4" font-size="89" fill="#ff0000" stroke="#ff0000" stroke-width="1.3" text-anchor="middle" filter="url(#bs)">*</text>
<text x="1666.3" y="948.6" font-size="89" fill="#ff0000" stroke="#ff0000" stroke-width="1.3" text-anchor="middle" filter="url(#bs)">*</text>
<text x="1706.9" y="948.6" font-size="89" fill="#ff0000" stroke="#ff0000" stroke-width="1.3" text-anchor="middle" filter="url(#bs)">*</text>
<text x="1847.0" y="919.5" font-size="89" fill="#ff0000" stroke="#ff0000" stroke-width="1.3" text-anchor="middle" filter="url(#bs)">*</text>
<text x="505.4" y="947.2" font-size="89" fill="#0000ff" stroke="#0000ff" stroke-width="1.3" text-anchor="middle" filter="url(#bs)">*</text>
<text x="752.4" y="958.3" font-size="89" fill="#0000ff" stroke="#0000ff" stroke-width="1.3" text-anchor="middle" filter="url(#bs)">*</text>
<text x="897.2" y="963.7" font-size="89" fill="#0000ff" stroke="#0000ff" stroke-width="1.3" text-anchor="middle" filter="url(#bs)">*</text>
<text x="1330.5" y="969.7" font-size="89" fill="#0000ff" stroke="#0000ff" stroke-width="1.3" text-anchor="middle" filter="url(#bs)">*</text>
<path d="M299.7 947.7 L301.1 947.9 L302.5 947.7 L303.9 948.3 L305.3 947.5 L306.7 947.5 L308.1 946.6 L309.5 947.0 L310.9 946.9 L312.3 947.3 L313.7 947.4 L315.1 947.4 L316.5 947.6 L317.9 947.5 L319.3 947.4 L320.8 947.1 L322.2 947.1 L323.6 946.7 L325.0 946.7 L326.4 946.8 L327.8 947.2 L329.2 947.3 L330.6 947.3 L332.0 947.4 L333.4 946.8 L334.8 946.7 L336.2 946.5 L337.6 946.8 L339.0 946.4 L340.4 946.4 L341.8 946.7 L343.2 946.6 L344.6 946.9 L346.0 946.8 L347.4 947.2 L348.8 946.3 L350.2 946.4 L351.6 947.1 L353.0 947.4 L354.4 947.3 L355.8 946.8 L357.2 946.9 L358.6 946.7 L360.0 946.5 L361.4 946.6 L362.9 946.4 L364.3 946.1 L365.7 945.9 L367.1 946.3 L368.5 946.4 L369.9 946.3 L371.3 946.4 L372.7 946.6 L374.1 946.4 L375.5 946.2 L376.9 946.1 L378.3 946.2 L379.7 946.1 L381.1 946.0 L382.5 946.4 L383.9 945.9 L385.3 945.8 L386.7 945.5 L388.1 945.6 L389.5 945.5 L390.9 945.2 L392.3 945.1 L393.7 944.5 L395.1 944.3 L396.5 944.0 L397.9 943.9 L399.3 944.1 L400.7 944.4 L402.1 944.5 L403.5 944.4 L405.0 944.2 L406.4 943.8 L407.8 942.9 L409.2 942.4 L410.6 942.8 L412.0 942.1 L413.4 941.7 L414.8 940.6 L416.2 940.5 L417.6 940.4 L419.0 940.2 L420.4 939.8 L421.8 938.0 L423.2 936.8 L424.6 935.3 L426.0 934.3 L427.4 932.1 L428.8 929.7 L430.2 926.8 L431.6 923.5 L433.0 919.2 L434.4 911.9 L435.8 900.9 L437.2 884.3 L438.6 862.3 L440.0 832.3 L441.4 793.5 L442.8 747.0 L444.2 696.7 L445.6 651.7 L447.1 624.7 L448.5 627.1 L449.9 658.2 L451.3 705.3 L452.7 756.0 L454.1 801.4 L455.5 839.0 L456.9 867.6 L458.3 888.9 L459.7 903.5 L461.1 913.6 L462.5 919.7 L463.9 924.0 L465.3 927.0 L466.7 929.5 L468.1 931.8 L469.5 933.6 L470.9 934.9 L472.3 936.0 L473.7 937.1 L475.1 938.4 L476.5 939.5 L477.9 940.4 L479.3 941.1 L480.7 941.1 L482.1 941.7 L483.5 941.8 L484.9 942.5 L486.3 942.2 L487.7 942.1 L489.2 941.8 L490.6 942.5 L492.0 942.8 L493.4 942.4 L494.8 941.8 L496.2 941.1 L497.6 940.6 L499.0 939.1 L500.4 936.1 L501.8 931.5 L503.2 926.5 L504.6 921.6 L506.0 918.0 L507.4 917.6 L508.8 920.7 L510.2 925.9 L511.6 930.8 L513.0 935.5 L514.4 939.1 L515.8 941.7 L517.2 942.6 L518.6 943.4 L520.0 944.1 L521.4 944.7 L522.8 944.9 L524.2 944.9 L525.6 945.0 L527.0 945.6 L528.4 945.7 L529.8 946.4 L531.3 946.4 L532.7 946.8 L534.1 946.4 L535.5 946.2 L536.9 946.5 L538.3 947.1 L539.7 946.7 L541.1 946.1 L542.5 946.2 L543.9 946.0 L545.3 946.4 L546.7 946.4 L548.1 947.0 L549.5 946.8 L550.9 946.2 L552.3 945.9 L553.7 946.3 L555.1 946.8 L556.5 947.4 L557.9 947.3 L559.3 947.4 L560.7 947.0 L562.1 947.3 L563.5 947.3 L564.9 947.6 L566.3 947.6 L567.7 947.7 L569.1 947.8 L570.5 947.8 L571.9 947.4 L573.4 947.1 L574.8 947.2 L576.2 947.2 L577.6 947.2 L579.0 946.6 L580.4 946.7 L581.8 946.8 L583.2 947.4 L584.6 947.3 L586.0 947.1 L587.4 946.9 L588.8 947.0 L590.2 947.0 L591.6 947.1 L593.0 946.9 L594.4 947.3 L595.8 947.3 L597.2 947.6 L598.6 947.6 L600.0 947.6 L601.4 946.9 L602.8 946.4 L604.2 946.5 L605.6 947.0 L607.0 947.0 L608.4 946.7 L609.8 946.4 L611.2 946.7 L612.6 946.9 L614.1 947.3 L615.5 947.3 L616.9 947.6 L618.3 947.6 L619.7 948.0 L621.1 948.1 L622.5 947.9 L623.9 947.6 L625.3 947.2 L626.7 947.6 L628.1 947.5 L629.5 947.6 L630.9 947.5 L632.3 947.6 L633.7 947.1 L635.1 947.0 L636.5 947.0 L637.9 947.7 L639.3 947.6 L640.7 947.4 L642.1 947.0 L643.5 946.9 L644.9 947.0 L646.3 947.3 L647.7 947.8 L649.1 948.0 L650.5 948.1 L651.9 947.6 L653.3 947.2 L654.7 946.9 L656.2 946.8 L657.6 946.9 L659.0 946.6 L660.4 946.9 L661.8 947.0 L663.2 947.6 L664.6 947.2 L666.0 947.1 L667.4 947.2 L668.8 947.4 L670.2 947.1 L671.6 946.9 L673.0 947.1 L674.4 947.1 L675.8 946.8 L677.2 946.5 L678.6 947.0 L680.0 947.1 L681.4 947.2 L682.8 947.5 L684.2 947.3 L685.6 947.3 L687.0 947.0 L688.4 946.7 L689.8 946.7 L691.2 946.8 L692.6 947.3 L694.0 947.2 L695.4 946.9 L696.8 946.8 L698.3 947.2 L699.7 947.5 L701.1 947.7 L702.5 947.7 L703.9 947.5 L705.3 947.4 L706.7 947.2 L708.1 947.3 L709.5 947.4 L710.9 947.4 L712.3 947.3 L713.7 946.8 L715.1 947.0 L716.5 946.8 L717.9 947.1 L719.3 947.1 L720.7 947.0 L722.1 946.9 L723.5 947.0 L724.9 947.0 L726.3 946.8 L727.7 946.4 L729.1 946.1 L730.5 946.2 L731.9 946.1 L733.3 946.3 L734.7 946.3 L736.1 946.1 L737.5 946.5 L738.9 946.0 L740.4 945.4 L741.8 944.0 L743.2 943.0 L744.6 941.5 L746.0 940.0 L747.4 937.6 L748.8 934.9 L750.2 932.8 L751.6 932.5 L753.0 933.7 L754.4 935.5 L755.8 937.1 L757.2 938.6 L758.6 940.1 L760.0 941.8 L761.4 942.5 L762.8 942.8 L764.2 942.3 L765.6 941.6 L767.0 940.3 L768.4 939.1 L769.8 938.0 L771.2 936.7 L772.6 934.9 L774.0 933.6 L775.4 933.4 L776.8 933.5 L778.2 934.2 L779.6 933.9 L781.0 935.2 L782.5 935.8 L783.9 936.7 L785.3 936.0 L786.7 934.8 L788.1 932.8 L789.5 930.1 L790.9 925.6 L792.3 920.0 L793.7 913.3 L795.1 906.0 L796.5 899.3 L797.9 894.1 L799.3 892.9 L800.7 894.7 L802.1 899.6 L803.5 905.8 L804.9 912.2 L806.3 918.1 L807.7 923.1 L809.1 927.2 L810.5 930.4 L811.9 932.4 L813.3 933.2 L814.7 933.0 L816.1 932.7 L817.5 932.0 L818.9 931.5 L820.3 931.0 L821.7 931.0 L823.1 931.5 L824.6 932.2 L826.0 933.8 L827.4 935.2 L828.8 936.9 L830.2 939.0 L831.6 940.6 L833.0 942.3 L834.4 942.9 L835.8 943.7 L837.2 943.7 L838.6 944.1 L840.0 944.1 L841.4 944.9 L842.8 945.1 L844.2 945.7 L845.6 945.5 L847.0 945.6 L848.4 945.9 L849.8 946.3 L851.2 946.7 L852.6 946.4 L854.0 946.2 L855.4 945.8 L856.8 946.1 L858.2 946.5 L859.6 946.7 L861.0 946.6 L862.4 946.7 L863.8 946.8 L865.3 946.7 L866.7 946.2 L868.1 945.9 L869.5 946.2 L870.9 946.5 L872.3 946.3 L873.7 946.5 L875.1 946.5 L876.5 946.7 L877.9 946.3 L879.3 946.3 L880.7 946.3 L882.1 946.7 L883.5 946.6 L884.9 946.6 L886.3 946.2 L887.7 945.3 L889.1 944.5 L890.5 943.7 L891.9 942.8 L893.3 941.5 L894.7 940.8 L896.1 941.4 L897.5 942.5 L898.9 944.0 L900.3 944.6 L901.7 945.7 L903.1 946.3 L904.5 947.0 L905.9 947.0 L907.4 947.1 L908.8 947.0 L910.2 947.0 L911.6 946.8 L913.0 946.9 L914.4 946.7 L915.8 947.0 L917.2 947.0 L918.6 947.3 L920.0 947.6 L921.4 947.5 L922.8 947.7 L924.2 947.4 L925.6 947.6 L927.0 947.4 L928.4 947.2 L929.8 947.0 L931.2 947.2 L932.6 947.1 L934.0 947.1 L935.4 947.0 L936.8 947.2 L938.2 947.1 L939.6 946.9 L941.0 946.8 L942.4 946.9 L943.8 946.8 L945.2 946.4 L946.6 946.4 L948.0 947.0 L949.5 947.1 L950.9 947.3 L952.3 947.3 L953.7 948.2 L955.1 948.0 L956.5 947.4 L957.9 946.6 L959.3 946.8 L960.7 946.7 L962.1 947.0 L963.5 947.0 L964.9 947.3 L966.3 947.3 L967.7 947.1 L969.1 947.0 L970.5 947.6 L971.9 947.2 L973.3 947.4 L974.7 946.8 L976.1 947.3 L977.5 947.2 L978.9 947.3 L980.3 947.5 L981.7 947.5 L983.1 947.3 L984.5 947.2 L985.9 947.7 L987.3 948.0 L988.7 947.9 L990.1 947.4 L991.6 947.3 L993.0 946.7 L994.4 946.6 L995.8 946.6 L997.2 946.9 L998.6 947.7 L1000.0 947.8 L1001.4 948.1 L1002.8 947.4 L1004.2 947.1 L1005.6 946.9 L1007.0 946.6 L1008.4 946.8 L1009.8 946.8 L1011.2 947.0 L1012.6 946.8 L1014.0 946.8 L1015.4 946.8 L1016.8 946.7 L1018.2 946.8 L1019.6 946.5 L1021.0 946.5 L1022.4 946.4 L1023.8 946.0 L1025.2 945.8 L1026.6 945.7 L1028.0 946.0 L1029.4 946.3 L1030.8 946.2 L1032.2 946.3 L1033.7 945.9 L1035.1 945.7 L1036.5 945.7 L1037.9 945.4 L1039.3 945.7 L1040.7 945.7 L1042.1 946.0 L1043.5 945.5 L1044.9 945.4 L1046.3 945.5 L1047.7 945.6 L1049.1 945.7 L1050.5 945.0 L1051.9 944.9 L1053.3 944.9 L1054.7 945.0 L1056.1 944.4 L1057.5 943.5 L1058.9 943.2 L1060.3 942.8 L1061.7 942.2 L1063.1 941.1 L1064.5 940.2 L1065.9 939.1 L1067.3 938.3 L1068.7 936.6 L1070.1 934.2 L1071.5 931.0 L1072.9 927.1 L1074.3 922.6 L1075.8 916.7 L1077.2 910.0 L1078.6 902.1 L1080.0 894.1 L1081.4 886.2 L1082.8 879.2 L1084.2 874.0 L1085.6 872.2 L1087.0 874.0 L1088.4 879.3 L1089.8 886.2 L1091.2 894.3 L1092.6 902.5 L1094.0 909.9 L1095.4 916.9 L1096.8 922.4 L1098.2 927.7 L1099.6 931.8 L1101.0 934.7 L1102.4 937.1 L1103.8 938.9 L1105.2 940.5 L1106.6 941.6 L1108.0 942.0 L1109.4 942.3 L1110.8 942.5 L1112.2 942.9 L1113.6 943.5 L1115.0 943.7 L1116.4 944.1 L1117.9 944.1 L1119.3 944.4 L1120.7 944.5 L1122.1 945.0 L1123.5 945.4 L1124.9 945.5 L1126.3 945.7 L1127.7 945.4 L1129.1 945.4 L1130.5 945.1 L1131.9 945.8 L1133.3 946.1 L1134.7 946.7 L1136.1 946.5 L1137.5 946.3 L1138.9 946.3 L1140.3 946.1 L1141.7 946.6 L1143.1 946.9 L1144.5 946.9 L1145.9 946.7 L1147.3 946.7 L1148.7 946.7 L1150.1 946.7 L1151.5 946.8 L1152.9 946.4 L1154.3 946.5 L1155.7 946.2 L1157.1 946.4 L1158.6 946.1 L1160.0 946.3 L1161.4 946.7 L1162.8 946.8 L1164.2 946.7 L1165.6 947.0 L1167.0 947.6 L1168.4 947.8 L1169.8 947.4 L1171.2 946.9 L1172.6 946.6 L1174.0 946.8 L1175.4 946.1 L1176.8 946.0 L1178.2 945.5 L1179.6 946.0 L1181.0 946.6 L1182.4 946.9 L1183.8 947.0 L1185.2 946.5 L1186.6 946.5 L1188.0 946.2 L1189.4 946.5 L1190.8 946.5 L1192.2 946.6 L1193.6 946.6 L1195.0 946.6 L1196.4 946.4 L1197.8 945.7 L1199.2 945.6 L1200.7 945.5 L1202.1 946.2 L1203.5 946.2 L1204.9 946.2 L1206.3 945.8 L1207.7 945.8 L1209.1 945.7 L1210.5 945.7 L1211.9 945.0 L1213.3 944.8 L1214.7 944.6 L1216.1 944.9 L1217.5 944.8 L1218.9 945.0 L1220.3 944.9 L1221.7 945.1 L1223.1 944.9 L1224.5 944.7 L1225.9 943.9 L1227.3 943.1 L1228.7 942.6 L1230.1 941.9 L1231.5 940.9 L1232.9 939.3 L1234.3 937.9 L1235.7 936.3 L1237.1 934.5 L1238.5 931.9 L1239.9 929.5 L1241.3 926.2 L1242.8 923.4 L1244.2 918.9 L1245.6 914.9 L1247.0 911.1 L1248.4 908.2 L1249.8 906.2 L1251.2 904.8 L1252.6 904.8 L1254.0 906.0 L1255.4 907.7 L1256.8 910.9 L1258.2 914.4 L1259.6 918.1 L1261.0 921.1 L1262.4 923.5 L1263.8 925.7 L1265.2 927.9 L1266.6 929.4 L1268.0 929.9 L1269.4 929.3 L1270.8 927.8 L1272.2 925.9 L1273.6 922.9 L1275.0 919.8 L1276.4 915.8 L1277.8 912.0 L1279.2 907.6 L1280.6 904.7 L1282.0 903.0 L1283.4 904.3 L1284.9 906.5 L1286.3 910.3 L1287.7 914.3 L1289.1 918.7 L1290.5 922.8 L1291.9 927.0 L1293.3 930.6 L1294.7 933.7 L1296.1 936.1 L1297.5 938.3 L1298.9 939.9 L1300.3 941.0 L1301.7 942.2 L1303.1 943.2 L1304.5 943.6 L1305.9 943.9 L1307.3 944.0 L1308.7 944.5 L1310.1 944.7 L1311.5 945.1 L1312.9 945.4 L1314.3 945.7 L1315.7 945.5 L1317.1 945.6 L1318.5 945.6 L1319.9 945.7 L1321.3 946.0 L1322.7 946.4 L1324.1 946.5 L1325.5 946.0 L1327.0 945.7 L1328.4 946.1 L1329.8 946.1 L1331.2 946.1 L1332.6 945.8 L1334.0 946.5 L1335.4 946.7 L1336.8 947.2 L1338.2 947.0 L1339.6 946.9 L1341.0 946.6 L1342.4 946.5 L1343.8 946.7 L1345.2 946.6 L1346.6 946.3 L1348.0 946.3 L1349.4 946.5 L1350.8 946.7 L1352.2 947.0 L1353.6 947.2 L1355.0 947.2 L1356.4 946.8 L1357.8 947.0 L1359.2 947.2 L1360.6 947.5 L1362.0 947.6 L1363.4 947.2 L1364.8 946.9 L1366.2 946.3 L1367.6 947.1 L1369.1 947.4 L1370.5 947.2 L1371.9 947.1 L1373.3 947.3 L1374.7 947.7 L1376.1 947.0 L1377.5 946.5 L1378.9 946.7 L1380.3 947.0 L1381.7 947.0 L1383.1 946.8 L1384.5 946.8 L1385.9 946.7 L1387.3 946.5 L1388.7 946.3 L1390.1 946.3 L1391.5 946.5 L1392.9 947.3 L1394.3 947.4 L1395.7 947.7 L1397.1 946.8 L1398.5 947.1 L1399.9 947.2 L1401.3 948.1 L1402.7 947.8 L1404.1 947.3 L1405.5 946.7 L1406.9 946.7 L1408.3 947.0 L1409.7 946.9 L1411.2 947.1 L1412.6 947.3 L1414.0 947.3 L1415.4 947.0 L1416.8 946.9 L1418.2 947.1 L1419.6 947.0 L1421.0 946.5 L1422.4 946.7 L1423.8 946.7 L1425.2 947.4 L1426.6 947.2 L1428.0 947.3 L1429.4 946.7 L1430.8 946.7 L1432.2 947.1 L1433.6 947.1 L1435.0 947.0 L1436.4 946.8 L1437.8 946.7 L1439.2 946.8 L1440.6 947.1 L1442.0 947.2 L1443.4 947.0 L1444.8 946.8 L1446.2 946.6 L1447.6 946.6 L1449.0 946.4 L1450.4 946.4 L1451.9 946.2 L1453.3 945.7 L1454.7 945.7 L1456.1 945.5 L1457.5 945.5 L1458.9 945.0 L1460.3 944.7 L1461.7 944.4 L1463.1 944.1 L1464.5 943.8 L1465.9 943.5 L1467.3 942.8 L1468.7 942.5 L1470.1 942.5 L1471.5 941.8 L1472.9 940.8 L1474.3 939.4 L1475.7 938.8 L1477.1 937.9 L1478.5 936.7 L1479.9 935.6 L1481.3 933.8 L1482.7 932.1 L1484.1 930.1 L1485.5 927.9 L1486.9 925.3 L1488.3 922.2 L1489.7 919.0 L1491.1 915.0 L1492.5 912.2 L1494.0 909.6 L1495.4 908.4 L1496.8 907.6 L1498.2 908.3 L1499.6 910.7 L1501.0 914.0 L1502.4 917.9 L1503.8 921.9 L1505.2 925.2 L1506.6 928.9 L1508.0 931.5 L1509.4 934.1 L1510.8 936.3 L1512.2 938.3 L1513.6 940.1 L1515.0 940.8 L1516.4 941.6 L1517.8 942.7 L1519.2 943.5 L1520.6 943.8 L1522.0 944.3 L1523.4 945.4 L1524.8 945.3 L1526.2 945.1 L1527.6 945.2 L1529.0 945.7 L1530.4 945.5 L1531.8 945.7 L1533.2 945.8 L1534.6 946.1 L1536.1 945.6 L1537.5 946.2 L1538.9 946.3 L1540.3 946.6 L1541.7 946.4 L1543.1 946.6 L1544.5 946.6 L1545.9 946.6 L1547.3 946.3 L1548.7 946.1 L1550.1 946.1 L1551.5 946.0 L1552.9 946.5 L1554.3 946.6 L1555.7 947.0 L1557.1 946.5 L1558.5 947.0 L1559.9 947.2 L1561.3 947.6 L1562.7 947.0 L1564.1 946.4 L1565.5 946.3 L1566.9 946.4 L1568.3 946.8 L1569.7 946.7 L1571.1 946.7 L1572.5 946.5 L1573.9 947.0 L1575.3 946.6 L1576.7 946.9 L1578.2 946.4 L1579.6 946.3 L1581.0 946.5 L1582.4 946.7 L1583.8 947.0 L1585.2 947.1 L1586.6 947.3 L1588.0 947.6 L1589.4 947.2 L1590.8 947.6 L1592.2 947.7 L1593.6 947.9 L1595.0 947.1 L1596.4 946.8 L1597.8 946.5 L1599.2 946.8 L1600.6 946.9 L1602.0 947.6 L1603.4 947.5 L1604.8 947.0 L1606.2 946.6 L1607.6 946.9 L1609.0 947.1 L1610.4 947.5 L1611.8 947.5 L1613.2 947.3 L1614.6 946.9 L1616.0 946.4 L1617.4 946.6 L1618.8 946.7 L1620.3 946.9 L1621.7 947.0 L1623.1 946.7 L1624.5 947.0 L1625.9 947.3 L1627.3 947.7 L1628.7 947.2 L1630.1 946.9 L1631.5 947.2 L1632.9 946.7 L1634.3 946.7 L1635.7 946.2 L1637.1 946.7 L1638.5 946.3 L1639.9 946.2 L1641.3 946.6 L1642.7 946.5 L1644.1 946.5 L1645.5 946.1 L1646.9 945.8 L1648.3 945.5 L1649.7 945.5 L1651.1 945.5 L1652.5 944.8 L1653.9 943.6 L1655.3 943.1 L1656.7 942.3 L1658.1 941.3 L1659.5 939.5 L1660.9 938.1 L1662.4 936.6 L1663.8 935.3 L1665.2 933.8 L1666.6 932.4 L1668.0 931.5 L1669.4 931.3 L1670.8 931.4 L1672.2 932.2 L1673.6 933.5 L1675.0 935.2 L1676.4 936.9 L1677.8 938.5 L1679.2 939.7 L1680.6 940.6 L1682.0 941.1 L1683.4 941.9 L1684.8 942.7 L1686.2 943.2 L1687.6 943.7 L1689.0 943.7 L1690.4 943.7 L1691.8 943.5 L1693.2 943.7 L1694.6 943.3 L1696.0 942.8 L1697.4 941.9 L1698.8 941.5 L1700.2 940.7 L1701.6 940.0 L1703.0 939.0 L1704.5 938.2 L1705.9 937.2 L1707.3 936.6 L1708.7 936.0 L1710.1 935.6 L1711.5 935.1 L1712.9 935.2 L1714.3 935.2 L1715.7 935.9 L1717.1 936.7 L1718.5 938.0 L1719.9 939.4 L1721.3 940.4 L1722.7 941.1 L1724.1 941.8 L1725.5 942.4 L1726.9 943.2 L1728.3 943.5 L1729.7 944.4 L1731.1 944.9 L1732.5 945.5 L1733.9 945.7 L1735.3 945.9 L1736.7 945.9 L1738.1 946.3 L1739.5 946.3 L1740.9 946.5 L1742.3 946.2 L1743.7 946.4 L1745.2 946.4 L1746.6 946.0 L1748.0 946.1 L1749.4 946.0 L1750.8 946.7 L1752.2 946.7 L1753.6 947.1 L1755.0 946.9 L1756.4 947.1 L1757.8 946.9 L1759.2 946.9 L1760.6 946.6 L1762.0 946.6 L1763.4 947.1 L1764.8 947.7 L1766.2 947.8 L1767.6 947.5 L1769.0 946.9 L1770.4 947.0 L1771.8 947.1 L1773.2 947.0 L1774.6 946.9 L1776.0 947.0 L1777.4 947.5 L1778.8 947.2 L1780.2 947.5 L1781.6 947.3 L1783.0 947.3 L1784.4 946.9 L1785.8 946.6 L1787.3 946.6 L1788.7 946.7 L1790.1 947.1 L1791.5 947.5 L1792.9 947.2 L1794.3 947.0 L1795.7 946.7 L1797.1 947.0 L1798.5 946.7 L1799.9 946.5 L1801.3 946.1 L1802.7 946.5 L1804.1 946.1 L1805.5 946.0 L1806.9 946.0 L1808.3 946.3 L1809.7 946.4 L1811.1 946.3 L1812.5 946.5 L1813.9 946.3 L1815.3 945.9 L1816.7 945.5 L1818.1 945.5 L1819.5 945.5 L1820.9 945.2 L1822.3 944.8 L1823.7 944.2 L1825.1 943.5 L1826.5 942.4 L1827.9 941.6 L1829.4 940.4 L1830.8 939.7 L1832.2 937.9 L1833.6 936.3 L1835.0 934.4 L1836.4 932.6 L1837.8 931.0 L1839.2 929.3 L1840.6 927.7 L1842.0 926.3 L1843.4 925.4 L1844.8 926.1 L1846.2 927.4 L1847.6 929.3 L1849.0 930.8 L1850.4 932.7 L1851.8 934.6 L1853.2 936.4 L1854.6 937.6 L1856.0 938.8 L1857.4 940.1 L1858.8 941.1 L1860.2 942.2 L1861.6 942.6 L1863.0 942.9 L1864.4 942.1 L1865.8 942.1 L1867.2 941.5 L1868.6 941.3 L1870.0 940.3 L1871.5 940.0 L1872.9 940.2 L1874.3 941.0 L1875.7 942.2 L1877.1 943.0 L1878.5 943.8 L1879.9 944.0 L1881.3 944.7 L1882.7 945.7 L1884.1 946.1 L1885.5 946.5 L1886.9 946.4 L1888.3 946.8 L1889.7 946.3 L1891.1 946.3 L1892.5 946.1 L1893.9 946.5 L1895.3 946.8 L1896.7 947.0 L1898.1 947.0 L1899.5 946.9 L1900.9 947.3 L1902.3 946.9 L1903.7 946.3 L1905.1 945.9 L1906.5 946.4 L1907.9 946.7 L1909.3 946.7 L1910.7 947.2 L1912.1 947.7 L1913.6 947.7 L1915.0 947.0 L1916.4 946.5 L1917.8 946.5 L1919.2 946.8 L1920.6 946.9 L1922.0 946.7 L1923.4 946.6 L1924.8 946.6 L1926.2 946.7 L1927.6 946.9 L1929.0 947.0 L1930.4 947.4 L1931.8 947.5 L1933.2 947.4 L1934.6 947.6 L1936.0 947.4 L1937.4 947.6 L1938.8 947.1 L1940.2 947.2 L1941.6 947.6 L1943.0 947.6 L1944.4 947.4 L1945.8 947.2 L1947.2 947.5 L1948.6 948.0 L1950.0 948.0 L1951.4 947.8 L1952.8 947.3 L1954.2 947.3 L1955.7 947.1 L1957.1 947.6 L1958.5 947.9 L1959.9 947.9 L1961.3 947.7 L1962.7 947.5 L1964.1 947.8 L1965.5 947.9 L1966.9 947.8 L1968.3 948.1 L1969.7 947.8 L1971.1 947.9 L1972.5 947.6 L1973.9 947.6 L1975.3 947.4 L1976.7 947.8 L1978.1 947.7 L1979.5 947.9 L1980.9 947.8 L1982.3 947.9 L1983.7 947.7" fill="none" stroke="#ff0000" stroke-width="6.2" stroke-linejoin="round"/>
<path d="M1706 612.7 H1847" stroke="#ff0000" stroke-width="6"/>
<text transform="translate(1860.0 633.5) scale(0.955 1)" font-size="61.0" font-weight="bold" fill="#000"><tspan dy="0.0">TiO</tspan><tspan font-size="47.0" dy="19.8" font-weight="normal" stroke="#222" stroke-width="1" fill="#222">2</tspan></text>
<text x="1729.5" y="742.5" font-size="89" fill="#ff0000" stroke="#ff0000" stroke-width="1.3" text-anchor="middle" filter="url(#bs)">*</text>
<text x="1764.0" y="711.5" font-size="61.0" fill="#ff0000">Antase</text>
<text x="1734.0" y="806.2" font-size="89" fill="#0000ff" stroke="#0000ff" stroke-width="1.3" text-anchor="middle" filter="url(#bs)">*</text>
<text x="1771.0" y="786.5" font-size="61.0" fill="#0000ff">Rutile</text>
<path d="M299.7 1452.4 H1985.2" stroke="#5e5e5e" stroke-width="6.0" fill="none"/>
<path d="M272.7 1452.2 H299.7" stroke="#6b6b6b" stroke-width="6.0" fill="none"/>
<path d="M285.2 1387.3 H299.7" stroke="#0c0c0c" stroke-width="3.3" fill="none"/>
<path d="M272.7 1322.5 H299.7" stroke="#6b6b6b" stroke-width="6.0" fill="none"/>
<path d="M285.2 1257.6 H299.7" stroke="#0c0c0c" stroke-width="3.3" fill="none"/>
<path d="M272.7 1192.7 H299.7" stroke="#6b6b6b" stroke-width="6.0" fill="none"/>
<path d="M285.2 1127.9 H299.7" stroke="#0c0c0c" stroke-width="3.3" fill="none"/>
<path d="M272.7 1063.0 H299.7" stroke="#6b6b6b" stroke-width="6.0" fill="none"/>
<path d="M440.0 1452.4 V1465.9" stroke="#6b6b6b" stroke-width="6.0" fill="none"/>
<path d="M580.4 1452.4 V1477.5" stroke="#0c0c0c" stroke-width="3.3" fill="none"/>
<path d="M720.7 1452.4 V1465.9" stroke="#0c0c0c" stroke-width="3.3" fill="none"/>
<path d="M861.0 1452.4 V1477.5" stroke="#6b6b6b" stroke-width="6.0" fill="none"/>
<path d="M1001.4 1452.4 V1465.9" stroke="#0c0c0c" stroke-width="3.3" fill="none"/>
<path d="M1141.7 1452.4 V1477.5" stroke="#0c0c0c" stroke-width="3.3" fill="none"/>
<path d="M1282.0 1452.4 V1465.9" stroke="#444" stroke-width="4.2" fill="none"/>
<path d="M1422.4 1452.4 V1477.5" stroke="#6b6b6b" stroke-width="6.0" fill="none"/>
<path d="M1562.7 1452.4 V1465.9" stroke="#0c0c0c" stroke-width="3.3" fill="none"/>
<path d="M1703.0 1452.4 V1477.5" stroke="#0c0c0c" stroke-width="3.3" fill="none"/>
<path d="M1843.4 1452.4 V1465.9" stroke="#444" stroke-width="4.2" fill="none"/>
<path d="M1983.7 1452.4 V1477.5" stroke="#6b6b6b" stroke-width="6.0" fill="none"/>
<path d="M299.7 1061.6 V1477.5" stroke="#686868" stroke-width="7.0" fill="none"/>
<g font-size="48" fill="#1a1a1a" stroke="#1a1a1a" stroke-width="0.5">
<text transform="translate(254.6 1467.3) scale(1.020 1)" text-anchor="end">0</text>
<text transform="translate(254.6 1337.5) scale(1.020 1)" text-anchor="end">400</text>
<text transform="translate(254.6 1207.8) scale(1.020 1)" text-anchor="end">800</text>
<text transform="translate(254.6 1078.1) scale(1.020 1)" text-anchor="end">1200</text>
<text transform="translate(298.7 1534.6) scale(1.020 1)" text-anchor="middle">20</text>
<text transform="translate(579.4 1534.6) scale(1.020 1)" text-anchor="middle">30</text>
<text transform="translate(860.0 1534.6) scale(1.020 1)" text-anchor="middle">40</text>
<text transform="translate(1140.7 1534.6) scale(1.020 1)" text-anchor="middle">50</text>
<text transform="translate(1421.4 1534.6) scale(1.020 1)" text-anchor="middle">60</text>
<text transform="translate(1702.0 1534.6) scale(1.020 1)" text-anchor="middle">70</text>
<text transform="translate(1982.7 1534.6) scale(1.020 1)" text-anchor="middle">80</text>
</g>
<text x="319.5" y="1110.0" font-size="60.0" fill="#111" letter-spacing="4.5" stroke="#111" stroke-width="0.3">c)</text>
<text x="447.0" y="1165.8" font-size="89" fill="#ff0000" stroke="#ff0000" stroke-width="1.3" text-anchor="middle" filter="url(#bs)">*</text>
<text x="798.6" y="1423.1" font-size="89" fill="#ff0000" stroke="#ff0000" stroke-width="1.3" text-anchor="middle" filter="url(#bs)">*</text>
<text x="1083.0" y="1393.3" font-size="89" fill="#ff0000" stroke="#ff0000" stroke-width="1.3" text-anchor="middle" filter="url(#bs)">*</text>
<text x="1253.2" y="1423.1" font-size="89" fill="#ff0000" stroke="#ff0000" stroke-width="1.3" text-anchor="middle" filter="url(#bs)">*</text>
<text x="1283.8" y="1426.5" font-size="89" fill="#ff0000" stroke="#ff0000" stroke-width="1.3" text-anchor="middle" filter="url(#bs)">*</text>
<text x="1501.3" y="1437.5" font-size="89" fill="#ff0000" stroke="#ff0000" stroke-width="1.3" text-anchor="middle" filter="url(#bs)">*</text>
<text x="1653.2" y="1439.5" font-size="89" fill="#ff0000" stroke="#ff0000" stroke-width="1.3" text-anchor="middle" filter="url(#bs)">*</text>
<text x="1702.4" y="1439.5" font-size="89" fill="#ff0000" stroke="#ff0000" stroke-width="1.3" text-anchor="middle" filter="url(#bs)">*</text>
<text x="1845.0" y="1431.5" font-size="89" fill="#ff0000" stroke="#ff0000" stroke-width="1.3" text-anchor="middle" filter="url(#bs)">*</text>
<text x="508.9" y="1436.1" font-size="89" fill="#0000ff" stroke="#0000ff" stroke-width="1.3" text-anchor="middle" filter="url(#bs)">*</text>
<text x="720.3" y="1461.6" font-size="89" fill="#0000ff" stroke="#0000ff" stroke-width="1.3" text-anchor="middle" filter="url(#bs)">*</text>
<text x="892.2" y="1461.6" font-size="89" fill="#0000ff" stroke="#0000ff" stroke-width="1.3" text-anchor="middle" filter="url(#bs)">*</text>
<text x="1317.5" y="1466.7" font-size="89" fill="#0000ff" stroke="#0000ff" stroke-width="1.3" text-anchor="middle" filter="url(#bs)">*</text>
<text x="590.7" y="1463.6" font-size="89" fill="#000" stroke="#000" stroke-width="1.3" text-anchor="middle" filter="url(#bs)">*</text>
<text x="748.4" y="1443.1" font-size="89" fill="#000" stroke="#000" stroke-width="1.3" text-anchor="middle" filter="url(#bs)">*</text>
<text x="937.8" y="1469.7" font-size="89" fill="#000" stroke="#000" stroke-width="1.3" text-anchor="middle" filter="url(#bs)">*</text>
<text x="1254.2" y="1383.3" font-size="89" fill="#000" stroke="#000" stroke-width="1.3" text-anchor="middle" filter="url(#bs)">*</text>
<text x="1352.6" y="1469.3" font-size="89" fill="#000" stroke="#000" stroke-width="1.3" text-anchor="middle" filter="url(#bs)">*</text>
<text x="1495.2" y="1372.9" font-size="89" fill="#000" stroke="#000" stroke-width="1.3" text-anchor="middle" filter="url(#bs)">*</text>
<path d="M299.7 1449.4 L300.8 1449.5 L301.9 1450.1 L303.1 1450.1 L304.2 1449.4 L305.3 1448.7 L306.4 1448.1 L307.6 1448.5 L308.7 1448.5 L309.8 1448.8 L310.9 1449.7 L312.0 1449.4 L313.2 1449.2 L314.3 1448.0 L315.4 1449.2 L316.5 1450.2 L317.7 1450.7 L318.8 1450.0 L319.9 1448.8 L321.0 1448.2 L322.2 1447.5 L323.3 1447.8 L324.4 1447.4 L325.5 1447.2 L326.6 1447.0 L327.8 1446.1 L328.9 1445.9 L330.0 1444.8 L331.1 1445.8 L332.3 1446.4 L333.4 1447.1 L334.5 1446.8 L335.6 1446.2 L336.7 1446.1 L337.9 1446.4 L339.0 1447.3 L340.1 1447.9 L341.2 1447.3 L342.4 1447.4 L343.5 1447.3 L344.6 1447.9 L345.7 1448.4 L346.9 1448.7 L348.0 1448.4 L349.1 1448.8 L350.2 1449.1 L351.3 1449.9 L352.5 1449.4 L353.6 1449.1 L354.7 1449.1 L355.8 1449.5 L357.0 1449.3 L358.1 1449.0 L359.2 1447.9 L360.3 1447.6 L361.4 1447.8 L362.6 1448.2 L363.7 1449.5 L364.8 1449.4 L365.9 1449.7 L367.1 1449.3 L368.2 1450.2 L369.3 1450.4 L370.4 1450.4 L371.6 1449.2 L372.7 1449.7 L373.8 1450.1 L374.9 1450.6 L376.0 1448.9 L377.2 1447.9 L378.3 1448.9 L379.4 1450.8 L380.5 1450.9 L381.7 1450.3 L382.8 1449.6 L383.9 1449.3 L385.0 1448.4 L386.1 1447.7 L387.3 1448.1 L388.4 1448.4 L389.5 1447.6 L390.6 1447.4 L391.8 1447.3 L392.9 1447.8 L394.0 1448.8 L395.1 1448.4 L396.3 1448.2 L397.4 1447.1 L398.5 1448.6 L399.6 1449.4 L400.7 1449.1 L401.9 1449.0 L403.0 1448.7 L404.1 1448.6 L405.2 1448.2 L406.4 1447.3 L407.5 1447.4 L408.6 1446.7 L409.7 1447.3 L410.8 1447.1 L412.0 1446.8 L413.1 1446.3 L414.2 1446.8 L415.3 1446.9 L416.5 1446.7 L417.6 1446.2 L418.7 1446.2 L419.8 1446.0 L420.9 1445.0 L422.1 1444.5 L423.2 1445.3 L424.3 1445.7 L425.4 1445.1 L426.6 1444.1 L427.7 1442.8 L428.8 1442.5 L429.9 1441.0 L431.1 1441.4 L432.2 1440.2 L433.3 1439.2 L434.4 1436.3 L435.5 1433.2 L436.7 1430.0 L437.8 1425.7 L438.9 1418.8 L440.0 1408.0 L441.2 1392.7 L442.3 1371.3 L443.4 1343.2 L444.5 1308.3 L445.6 1268.1 L446.8 1226.0 L447.9 1186.0 L449.0 1157.8 L450.1 1147.7 L451.3 1159.4 L452.4 1188.0 L453.5 1226.3 L454.6 1268.4 L455.8 1308.2 L456.9 1342.5 L458.0 1371.7 L459.1 1393.8 L460.2 1410.0 L461.4 1419.3 L462.5 1425.8 L463.6 1431.0 L464.7 1434.2 L465.9 1436.4 L467.0 1438.2 L468.1 1438.7 L469.2 1439.7 L470.3 1440.6 L471.5 1442.6 L472.6 1443.5 L473.7 1443.8 L474.8 1445.6 L476.0 1446.1 L477.1 1446.0 L478.2 1445.5 L479.3 1445.6 L480.5 1445.9 L481.6 1445.1 L482.7 1444.5 L483.8 1446.0 L484.9 1446.7 L486.1 1447.7 L487.2 1446.7 L488.3 1446.1 L489.4 1447.3 L490.6 1447.1 L491.7 1448.3 L492.8 1446.6 L493.9 1447.8 L495.0 1446.8 L496.2 1446.2 L497.3 1445.0 L498.4 1444.1 L499.5 1442.9 L500.7 1440.7 L501.8 1437.9 L502.9 1433.8 L504.0 1429.0 L505.2 1424.5 L506.3 1419.9 L507.4 1418.5 L508.5 1418.0 L509.6 1421.9 L510.8 1425.4 L511.9 1430.2 L513.0 1434.5 L514.1 1438.0 L515.3 1442.1 L516.4 1445.1 L517.5 1446.6 L518.6 1447.3 L519.7 1447.7 L520.9 1449.1 L522.0 1448.3 L523.1 1447.7 L524.2 1446.4 L525.4 1447.6 L526.5 1448.1 L527.6 1449.5 L528.7 1448.7 L529.8 1448.0 L531.0 1447.9 L532.1 1447.6 L533.2 1448.0 L534.3 1447.7 L535.5 1449.4 L536.6 1449.2 L537.7 1449.2 L538.8 1448.6 L540.0 1449.1 L541.1 1448.9 L542.2 1447.9 L543.3 1448.6 L544.4 1448.3 L545.6 1448.3 L546.7 1447.1 L547.8 1447.8 L548.9 1448.9 L550.1 1449.1 L551.2 1449.0 L552.3 1448.5 L553.4 1448.3 L554.5 1448.5 L555.7 1449.7 L556.8 1450.6 L557.9 1451.4 L559.0 1449.9 L560.2 1449.5 L561.3 1448.9 L562.4 1449.3 L563.5 1449.1 L564.7 1448.7 L565.8 1448.1 L566.9 1448.5 L568.0 1448.0 L569.1 1447.9 L570.3 1447.0 L571.4 1447.8 L572.5 1448.0 L573.6 1449.6 L574.8 1449.7 L575.9 1450.9 L577.0 1449.2 L578.1 1449.1 L579.2 1447.9 L580.4 1448.2 L581.5 1447.3 L582.6 1447.2 L583.7 1446.7 L584.9 1445.5 L586.0 1444.9 L587.1 1444.5 L588.2 1444.8 L589.4 1444.9 L590.5 1445.9 L591.6 1446.9 L592.7 1446.5 L593.8 1447.0 L595.0 1447.4 L596.1 1447.8 L597.2 1446.9 L598.3 1447.0 L599.5 1447.3 L600.6 1447.9 L601.7 1448.7 L602.8 1450.0 L603.9 1450.5 L605.1 1449.6 L606.2 1449.2 L607.3 1449.4 L608.4 1450.3 L609.6 1450.8 L610.7 1450.4 L611.8 1450.7 L612.9 1449.8 L614.1 1450.9 L615.2 1450.2 L616.3 1450.7 L617.4 1450.5 L618.5 1450.3 L619.7 1450.1 L620.8 1450.3 L621.9 1451.0 L623.0 1450.8 L624.2 1449.9 L625.3 1449.1 L626.4 1448.9 L627.5 1448.4 L628.6 1448.6 L629.8 1448.3 L630.9 1448.3 L632.0 1448.2 L633.1 1449.9 L634.3 1449.8 L635.4 1449.4 L636.5 1448.5 L637.6 1449.2 L638.7 1448.9 L639.9 1449.6 L641.0 1449.1 L642.1 1448.9 L643.2 1448.5 L644.4 1448.4 L645.5 1448.6 L646.6 1448.2 L647.7 1448.3 L648.9 1448.8 L650.0 1449.2 L651.1 1449.5 L652.2 1449.8 L653.3 1448.9 L654.5 1448.9 L655.6 1449.1 L656.7 1450.0 L657.8 1450.2 L659.0 1449.7 L660.1 1449.1 L661.2 1449.4 L662.3 1450.2 L663.4 1448.9 L664.6 1448.0 L665.7 1447.2 L666.8 1449.8 L667.9 1450.0 L669.1 1450.1 L670.2 1448.0 L671.3 1448.1 L672.4 1448.4 L673.6 1448.9 L674.7 1450.1 L675.8 1449.6 L676.9 1449.6 L678.0 1449.0 L679.2 1448.9 L680.3 1448.1 L681.4 1448.5 L682.5 1449.4 L683.7 1450.2 L684.8 1449.4 L685.9 1449.3 L687.0 1449.9 L688.1 1448.9 L689.3 1448.2 L690.4 1448.3 L691.5 1450.0 L692.6 1449.6 L693.8 1448.6 L694.9 1447.0 L696.0 1447.4 L697.1 1448.3 L698.3 1449.0 L699.4 1450.5 L700.5 1450.4 L701.6 1450.5 L702.7 1449.2 L703.9 1449.2 L705.0 1449.2 L706.1 1449.2 L707.2 1448.6 L708.4 1448.2 L709.5 1448.3 L710.6 1448.6 L711.7 1448.5 L712.8 1448.5 L714.0 1448.7 L715.1 1449.3 L716.2 1449.3 L717.3 1448.9 L718.5 1448.4 L719.6 1448.4 L720.7 1448.1 L721.8 1448.1 L723.0 1448.6 L724.1 1448.3 L725.2 1447.5 L726.3 1446.4 L727.4 1446.4 L728.6 1446.2 L729.7 1446.4 L730.8 1446.5 L731.9 1445.9 L733.1 1444.9 L734.2 1442.5 L735.3 1441.8 L736.4 1441.2 L737.5 1440.5 L738.7 1437.5 L739.8 1434.7 L740.9 1433.2 L742.0 1432.8 L743.2 1431.1 L744.3 1429.1 L745.4 1428.0 L746.5 1427.1 L747.6 1426.9 L748.8 1427.0 L749.9 1427.5 L751.0 1427.1 L752.1 1426.7 L753.3 1426.6 L754.4 1428.0 L755.5 1428.7 L756.6 1429.3 L757.8 1429.5 L758.9 1429.8 L760.0 1430.8 L761.1 1431.3 L762.2 1433.0 L763.4 1433.0 L764.5 1433.7 L765.6 1434.2 L766.7 1435.7 L767.9 1435.1 L769.0 1435.0 L770.1 1434.1 L771.2 1434.3 L772.3 1433.4 L773.5 1433.7 L774.6 1433.4 L775.7 1432.8 L776.8 1431.5 L778.0 1431.4 L779.1 1431.9 L780.2 1432.6 L781.3 1433.4 L782.5 1433.8 L783.6 1434.6 L784.7 1435.0 L785.8 1434.4 L786.9 1434.1 L788.1 1432.8 L789.2 1430.9 L790.3 1428.3 L791.4 1424.8 L792.6 1421.8 L793.7 1417.1 L794.8 1412.3 L795.9 1407.0 L797.0 1403.2 L798.2 1401.4 L799.3 1401.5 L800.4 1401.4 L801.5 1403.3 L802.7 1405.5 L803.8 1410.9 L804.9 1415.6 L806.0 1421.2 L807.2 1424.3 L808.3 1427.1 L809.4 1429.9 L810.5 1432.4 L811.6 1433.9 L812.8 1434.6 L813.9 1435.7 L815.0 1436.3 L816.1 1435.2 L817.3 1434.3 L818.4 1433.0 L819.5 1432.0 L820.6 1430.7 L821.7 1430.3 L822.9 1430.2 L824.0 1430.8 L825.1 1432.9 L826.2 1435.3 L827.4 1437.9 L828.5 1439.3 L829.6 1440.6 L830.7 1441.5 L831.9 1442.0 L833.0 1443.9 L834.1 1445.5 L835.2 1446.6 L836.3 1446.6 L837.5 1446.7 L838.6 1447.2 L839.7 1447.8 L840.8 1447.6 L842.0 1447.6 L843.1 1447.5 L844.2 1448.3 L845.3 1448.7 L846.4 1450.1 L847.6 1450.3 L848.7 1450.3 L849.8 1449.7 L850.9 1449.2 L852.1 1449.2 L853.2 1449.2 L854.3 1449.5 L855.4 1449.7 L856.5 1448.9 L857.7 1448.5 L858.8 1448.4 L859.9 1449.1 L861.0 1449.5 L862.2 1449.5 L863.3 1448.7 L864.4 1448.6 L865.5 1448.9 L866.7 1449.9 L867.8 1450.3 L868.9 1450.3 L870.0 1450.2 L871.1 1450.1 L872.3 1450.0 L873.4 1449.4 L874.5 1449.1 L875.6 1449.0 L876.8 1448.0 L877.9 1448.4 L879.0 1447.6 L880.1 1448.7 L881.2 1448.0 L882.4 1449.7 L883.5 1450.1 L884.6 1450.4 L885.7 1448.9 L886.9 1447.4 L888.0 1447.2 L889.1 1446.6 L890.2 1447.0 L891.4 1446.0 L892.5 1445.5 L893.6 1444.9 L894.7 1443.8 L895.8 1443.5 L897.0 1442.1 L898.1 1442.8 L899.2 1442.9 L900.3 1443.6 L901.5 1444.5 L902.6 1445.7 L903.7 1447.1 L904.8 1447.6 L905.9 1448.4 L907.1 1449.1 L908.2 1449.0 L909.3 1448.4 L910.4 1448.9 L911.6 1448.4 L912.7 1448.0 L913.8 1447.6 L914.9 1448.4 L916.1 1449.4 L917.2 1448.7 L918.3 1449.2 L919.4 1448.7 L920.5 1449.6 L921.7 1449.6 L922.8 1449.6 L923.9 1448.7 L925.0 1448.4 L926.2 1449.1 L927.3 1449.4 L928.4 1449.4 L929.5 1448.9 L930.6 1448.6 L931.8 1448.0 L932.9 1448.4 L934.0 1448.0 L935.1 1448.6 L936.3 1448.0 L937.4 1449.4 L938.5 1449.4 L939.6 1450.7 L940.8 1449.5 L941.9 1448.8 L943.0 1448.5 L944.1 1450.1 L945.2 1451.6 L946.4 1450.4 L947.5 1449.9 L948.6 1449.2 L949.7 1449.9 L950.9 1449.7 L952.0 1450.2 L953.1 1450.1 L954.2 1450.7 L955.3 1450.2 L956.5 1450.1 L957.6 1449.1 L958.7 1449.2 L959.8 1449.8 L961.0 1450.0 L962.1 1450.1 L963.2 1448.9 L964.3 1448.6 L965.4 1448.4 L966.6 1449.4 L967.7 1450.1 L968.8 1450.5 L969.9 1450.4 L971.1 1450.0 L972.2 1449.2 L973.3 1448.8 L974.4 1447.9 L975.6 1448.5 L976.7 1448.8 L977.8 1448.4 L978.9 1449.0 L980.0 1449.3 L981.2 1450.5 L982.3 1449.5 L983.4 1449.1 L984.5 1449.3 L985.7 1449.2 L986.8 1449.3 L987.9 1448.9 L989.0 1449.9 L990.1 1450.4 L991.3 1450.8 L992.4 1450.4 L993.5 1450.4 L994.6 1450.1 L995.8 1449.9 L996.9 1449.1 L998.0 1449.0 L999.1 1448.6 L1000.3 1448.6 L1001.4 1449.0 L1002.5 1449.9 L1003.6 1450.1 L1004.7 1449.8 L1005.9 1449.4 L1007.0 1449.4 L1008.1 1449.3 L1009.2 1449.4 L1010.4 1449.1 L1011.5 1448.5 L1012.6 1448.3 L1013.7 1448.6 L1014.8 1449.5 L1016.0 1448.5 L1017.1 1448.4 L1018.2 1447.9 L1019.3 1449.0 L1020.5 1449.1 L1021.6 1449.5 L1022.7 1450.1 L1023.8 1449.3 L1025.0 1448.9 L1026.1 1448.8 L1027.2 1449.2 L1028.3 1449.7 L1029.4 1448.6 L1030.6 1448.7 L1031.7 1449.4 L1032.8 1449.7 L1033.9 1449.1 L1035.1 1448.6 L1036.2 1449.0 L1037.3 1450.3 L1038.4 1450.6 L1039.5 1449.9 L1040.7 1448.4 L1041.8 1447.5 L1042.9 1447.5 L1044.0 1447.2 L1045.2 1447.6 L1046.3 1448.0 L1047.4 1448.8 L1048.5 1448.2 L1049.7 1448.3 L1050.8 1449.1 L1051.9 1449.1 L1053.0 1448.4 L1054.1 1448.4 L1055.3 1448.5 L1056.4 1448.8 L1057.5 1447.8 L1058.6 1447.6 L1059.8 1447.2 L1060.9 1447.4 L1062.0 1446.6 L1063.1 1445.6 L1064.2 1445.3 L1065.4 1445.0 L1066.5 1445.6 L1067.6 1444.7 L1068.7 1443.9 L1069.9 1441.8 L1071.0 1440.6 L1072.1 1439.1 L1073.2 1437.4 L1074.3 1434.9 L1075.5 1431.2 L1076.6 1427.1 L1077.7 1420.8 L1078.8 1415.3 L1080.0 1409.2 L1081.1 1402.2 L1082.2 1394.3 L1083.3 1386.6 L1084.5 1380.1 L1085.6 1375.8 L1086.7 1373.4 L1087.8 1373.6 L1088.9 1376.7 L1090.1 1381.3 L1091.2 1387.6 L1092.3 1393.4 L1093.4 1400.4 L1094.6 1407.4 L1095.7 1414.9 L1096.8 1420.7 L1097.9 1425.4 L1099.0 1429.9 L1100.2 1432.6 L1101.3 1436.7 L1102.4 1438.8 L1103.5 1441.7 L1104.7 1442.3 L1105.8 1444.0 L1106.9 1445.9 L1108.0 1446.7 L1109.2 1446.2 L1110.3 1445.3 L1111.4 1444.6 L1112.5 1445.1 L1113.6 1445.5 L1114.8 1446.6 L1115.9 1446.7 L1117.0 1446.1 L1118.1 1447.3 L1119.3 1447.8 L1120.4 1450.4 L1121.5 1449.5 L1122.6 1449.6 L1123.7 1447.5 L1124.9 1446.9 L1126.0 1446.8 L1127.1 1447.5 L1128.2 1448.8 L1129.4 1449.3 L1130.5 1449.5 L1131.6 1449.0 L1132.7 1448.6 L1133.9 1448.3 L1135.0 1448.7 L1136.1 1448.3 L1137.2 1448.2 L1138.3 1448.2 L1139.5 1448.3 L1140.6 1448.7 L1141.7 1449.2 L1142.8 1448.8 L1144.0 1448.5 L1145.1 1448.5 L1146.2 1448.7 L1147.3 1448.7 L1148.4 1449.0 L1149.6 1448.8 L1150.7 1448.8 L1151.8 1447.6 L1152.9 1448.3 L1154.1 1448.6 L1155.2 1449.8 L1156.3 1449.4 L1157.4 1449.3 L1158.6 1448.7 L1159.7 1449.0 L1160.8 1449.0 L1161.9 1448.5 L1163.0 1448.9 L1164.2 1448.9 L1165.3 1450.3 L1166.4 1450.3 L1167.5 1450.0 L1168.7 1448.3 L1169.8 1448.2 L1170.9 1448.6 L1172.0 1448.5 L1173.1 1448.5 L1174.3 1448.1 L1175.4 1448.0 L1176.5 1447.8 L1177.6 1447.6 L1178.8 1448.7 L1179.9 1448.6 L1181.0 1449.3 L1182.1 1448.9 L1183.2 1448.4 L1184.4 1447.2 L1185.5 1447.6 L1186.6 1448.4 L1187.7 1449.3 L1188.9 1449.4 L1190.0 1448.9 L1191.1 1448.8 L1192.2 1448.5 L1193.4 1448.4 L1194.5 1449.4 L1195.6 1448.9 L1196.7 1449.9 L1197.8 1449.4 L1199.0 1450.0 L1200.1 1449.5 L1201.2 1448.7 L1202.3 1448.3 L1203.5 1448.3 L1204.6 1448.4 L1205.7 1447.6 L1206.8 1447.4 L1207.9 1447.4 L1209.1 1447.5 L1210.2 1447.3 L1211.3 1448.0 L1212.4 1447.4 L1213.6 1446.3 L1214.7 1446.6 L1215.8 1447.7 L1216.9 1448.5 L1218.1 1446.9 L1219.2 1446.5 L1220.3 1446.7 L1221.4 1447.5 L1222.5 1447.5 L1223.7 1446.7 L1224.8 1446.4 L1225.9 1446.6 L1227.0 1446.7 L1228.2 1446.6 L1229.3 1445.6 L1230.4 1445.0 L1231.5 1442.8 L1232.6 1441.9 L1233.8 1440.7 L1234.9 1439.4 L1236.0 1437.1 L1237.1 1434.6 L1238.3 1431.8 L1239.4 1428.4 L1240.5 1424.2 L1241.6 1419.9 L1242.8 1416.9 L1243.9 1413.9 L1245.0 1412.1 L1246.1 1407.2 L1247.2 1404.0 L1248.4 1400.1 L1249.5 1398.8 L1250.6 1398.1 L1251.7 1397.8 L1252.9 1399.0 L1254.0 1401.1 L1255.1 1403.7 L1256.2 1406.3 L1257.3 1409.8 L1258.5 1413.2 L1259.6 1417.4 L1260.7 1419.8 L1261.8 1423.2 L1263.0 1425.7 L1264.1 1428.7 L1265.2 1430.7 L1266.3 1433.3 L1267.5 1434.1 L1268.6 1435.8 L1269.7 1435.8 L1270.8 1435.0 L1271.9 1433.5 L1273.1 1432.0 L1274.2 1431.3 L1275.3 1429.2 L1276.4 1425.9 L1277.6 1421.3 L1278.7 1416.9 L1279.8 1412.9 L1280.9 1409.9 L1282.0 1406.6 L1283.2 1405.2 L1284.3 1404.9 L1285.4 1405.9 L1286.5 1407.8 L1287.7 1410.8 L1288.8 1415.3 L1289.9 1419.5 L1291.0 1423.2 L1292.1 1426.7 L1293.3 1430.8 L1294.4 1434.2 L1295.5 1437.1 L1296.6 1439.3 L1297.8 1441.1 L1298.9 1442.8 L1300.0 1443.7 L1301.1 1444.6 L1302.3 1444.6 L1303.4 1445.3 L1304.5 1445.9 L1305.6 1447.3 L1306.7 1446.1 L1307.9 1446.8 L1309.0 1446.0 L1310.1 1447.6 L1311.2 1447.1 L1312.4 1446.7 L1313.5 1447.7 L1314.6 1448.4 L1315.7 1449.4 L1316.8 1448.2 L1318.0 1448.4 L1319.1 1447.7 L1320.2 1447.7 L1321.3 1448.2 L1322.5 1448.9 L1323.6 1449.8 L1324.7 1448.5 L1325.8 1449.2 L1327.0 1448.4 L1328.1 1448.4 L1329.2 1448.1 L1330.3 1448.8 L1331.4 1450.3 L1332.6 1449.8 L1333.7 1448.8 L1334.8 1448.4 L1335.9 1448.6 L1337.1 1448.7 L1338.2 1448.0 L1339.3 1449.6 L1340.4 1450.0 L1341.5 1449.9 L1342.7 1448.4 L1343.8 1447.9 L1344.9 1449.5 L1346.0 1449.8 L1347.2 1450.0 L1348.3 1447.6 L1349.4 1448.1 L1350.5 1448.6 L1351.7 1449.8 L1352.8 1448.9 L1353.9 1449.0 L1355.0 1448.4 L1356.1 1449.3 L1357.3 1448.9 L1358.4 1449.8 L1359.5 1449.3 L1360.6 1449.8 L1361.8 1450.3 L1362.9 1449.9 L1364.0 1449.4 L1365.1 1448.9 L1366.2 1449.3 L1367.4 1449.0 L1368.5 1449.2 L1369.6 1449.4 L1370.7 1449.6 L1371.9 1448.9 L1373.0 1449.0 L1374.1 1450.3 L1375.2 1449.9 L1376.4 1449.6 L1377.5 1448.6 L1378.6 1449.3 L1379.7 1449.3 L1380.8 1449.6 L1382.0 1449.9 L1383.1 1450.4 L1384.2 1450.5 L1385.3 1450.3 L1386.5 1450.5 L1387.6 1449.9 L1388.7 1450.2 L1389.8 1449.4 L1390.9 1450.2 L1392.1 1449.4 L1393.2 1449.0 L1394.3 1448.4 L1395.4 1448.9 L1396.6 1449.6 L1397.7 1449.6 L1398.8 1450.1 L1399.9 1450.4 L1401.0 1450.4 L1402.2 1449.8 L1403.3 1449.5 L1404.4 1449.2 L1405.5 1448.6 L1406.7 1448.2 L1407.8 1448.2 L1408.9 1448.7 L1410.0 1449.2 L1411.2 1449.6 L1412.3 1449.6 L1413.4 1449.7 L1414.5 1450.4 L1415.6 1450.4 L1416.8 1450.3 L1417.9 1449.9 L1419.0 1449.8 L1420.1 1449.5 L1421.3 1449.1 L1422.4 1448.1 L1423.5 1449.6 L1424.6 1449.6 L1425.7 1451.5 L1426.9 1449.7 L1428.0 1448.3 L1429.1 1448.6 L1430.2 1449.0 L1431.4 1450.1 L1432.5 1449.0 L1433.6 1448.8 L1434.7 1450.1 L1435.9 1449.5 L1437.0 1449.6 L1438.1 1448.5 L1439.2 1449.1 L1440.3 1449.0 L1441.5 1449.2 L1442.6 1448.8 L1443.7 1449.3 L1444.8 1450.1 L1446.0 1450.2 L1447.1 1449.9 L1448.2 1448.4 L1449.3 1448.7 L1450.4 1448.8 L1451.6 1448.8 L1452.7 1448.2 L1453.8 1447.5 L1454.9 1446.8 L1456.1 1447.2 L1457.2 1448.6 L1458.3 1449.1 L1459.4 1447.7 L1460.6 1446.2 L1461.7 1446.0 L1462.8 1446.8 L1463.9 1447.4 L1465.0 1447.0 L1466.2 1446.8 L1467.3 1447.0 L1468.4 1447.5 L1469.5 1445.4 L1470.7 1443.1 L1471.8 1442.3 L1472.9 1443.3 L1474.0 1443.5 L1475.1 1442.8 L1476.3 1441.0 L1477.4 1440.4 L1478.5 1439.6 L1479.6 1438.7 L1480.8 1437.8 L1481.9 1436.0 L1483.0 1435.3 L1484.1 1433.6 L1485.3 1431.8 L1486.4 1430.1 L1487.5 1428.6 L1488.6 1427.4 L1489.7 1425.1 L1490.9 1421.8 L1492.0 1417.9 L1493.1 1414.6 L1494.2 1411.5 L1495.4 1409.4 L1496.5 1408.4 L1497.6 1408.3 L1498.7 1409.6 L1499.8 1410.4 L1501.0 1411.7 L1502.1 1412.9 L1503.2 1415.8 L1504.3 1419.3 L1505.5 1422.3 L1506.6 1425.5 L1507.7 1428.1 L1508.8 1431.2 L1509.9 1433.7 L1511.1 1435.7 L1512.2 1438.3 L1513.3 1440.4 L1514.4 1442.9 L1515.6 1444.2 L1516.7 1444.3 L1517.8 1443.8 L1518.9 1444.1 L1520.1 1445.1 L1521.2 1445.8 L1522.3 1445.8 L1523.4 1445.7 L1524.5 1447.1 L1525.7 1448.0 L1526.8 1448.5 L1527.9 1447.4 L1529.0 1447.1 L1530.2 1447.9 L1531.3 1448.8 L1532.4 1449.3 L1533.5 1449.3 L1534.6 1448.5 L1535.8 1448.6 L1536.9 1448.2 L1538.0 1447.9 L1539.1 1447.1 L1540.3 1447.0 L1541.4 1448.4 L1542.5 1448.8 L1543.6 1448.2 L1544.8 1447.6 L1545.9 1447.2 L1547.0 1448.0 L1548.1 1448.1 L1549.2 1448.8 L1550.4 1448.7 L1551.5 1448.3 L1552.6 1448.9 L1553.7 1449.2 L1554.9 1449.7 L1556.0 1449.3 L1557.1 1449.5 L1558.2 1449.2 L1559.3 1448.0 L1560.5 1447.5 L1561.6 1447.8 L1562.7 1449.5 L1563.8 1448.9 L1565.0 1449.0 L1566.1 1448.3 L1567.2 1449.8 L1568.3 1449.9 L1569.5 1450.4 L1570.6 1449.8 L1571.7 1449.6 L1572.8 1449.0 L1573.9 1448.9 L1575.1 1449.6 L1576.2 1448.9 L1577.3 1449.4 L1578.4 1449.8 L1579.6 1450.6 L1580.7 1450.7 L1581.8 1450.3 L1582.9 1450.4 L1584.0 1449.9 L1585.2 1450.0 L1586.3 1449.9 L1587.4 1449.3 L1588.5 1448.4 L1589.7 1448.4 L1590.8 1449.0 L1591.9 1449.4 L1593.0 1449.4 L1594.2 1449.1 L1595.3 1449.1 L1596.4 1450.2 L1597.5 1450.6 L1598.6 1451.0 L1599.8 1449.5 L1600.9 1449.8 L1602.0 1449.3 L1603.1 1448.5 L1604.3 1448.7 L1605.4 1449.4 L1606.5 1451.1 L1607.6 1451.8 L1608.7 1452.1 L1609.9 1451.2 L1611.0 1450.4 L1612.1 1450.4 L1613.2 1451.3 L1614.4 1450.6 L1615.5 1450.1 L1616.6 1449.6 L1617.7 1449.7 L1618.8 1448.6 L1620.0 1447.5 L1621.1 1447.2 L1622.2 1447.7 L1623.3 1448.6 L1624.5 1448.2 L1625.6 1447.5 L1626.7 1447.8 L1627.8 1448.4 L1629.0 1448.9 L1630.1 1448.7 L1631.2 1449.2 L1632.3 1450.0 L1633.4 1450.2 L1634.6 1450.7 L1635.7 1449.4 L1636.8 1448.9 L1637.9 1448.7 L1639.1 1448.5 L1640.2 1448.3 L1641.3 1448.6 L1642.4 1448.3 L1643.5 1448.3 L1644.7 1446.2 L1645.8 1447.6 L1646.9 1447.6 L1648.0 1448.2 L1649.2 1447.3 L1650.3 1447.1 L1651.4 1446.5 L1652.5 1446.8 L1653.7 1447.0 L1654.8 1447.5 L1655.9 1446.2 L1657.0 1445.0 L1658.1 1443.0 L1659.3 1441.4 L1660.4 1439.8 L1661.5 1438.9 L1662.6 1437.8 L1663.8 1435.9 L1664.9 1433.9 L1666.0 1432.4 L1667.1 1432.0 L1668.2 1431.0 L1669.4 1431.1 L1670.5 1430.9 L1671.6 1431.6 L1672.7 1432.4 L1673.9 1433.5 L1675.0 1435.9 L1676.1 1436.7 L1677.2 1438.4 L1678.4 1440.0 L1679.5 1441.4 L1680.6 1443.1 L1681.7 1442.7 L1682.8 1444.2 L1684.0 1444.6 L1685.1 1445.6 L1686.2 1445.9 L1687.3 1446.0 L1688.5 1446.5 L1689.6 1446.1 L1690.7 1446.2 L1691.8 1445.7 L1692.9 1447.1 L1694.1 1446.2 L1695.2 1445.9 L1696.3 1444.9 L1697.4 1444.8 L1698.6 1444.0 L1699.7 1441.8 L1700.8 1441.6 L1701.9 1440.3 L1703.0 1440.0 L1704.2 1437.4 L1705.3 1437.4 L1706.4 1436.2 L1707.5 1436.8 L1708.7 1436.7 L1709.8 1436.1 L1710.9 1435.3 L1712.0 1434.0 L1713.2 1434.4 L1714.3 1435.5 L1715.4 1437.7 L1716.5 1439.2 L1717.6 1440.0 L1718.8 1440.5 L1719.9 1440.8 L1721.0 1441.3 L1722.1 1441.9 L1723.3 1442.9 L1724.4 1444.0 L1725.5 1444.4 L1726.6 1444.8 L1727.7 1444.9 L1728.9 1445.8 L1730.0 1447.4 L1731.1 1447.5 L1732.2 1447.5 L1733.4 1446.5 L1734.5 1448.2 L1735.6 1448.6 L1736.7 1449.3 L1737.9 1449.3 L1739.0 1449.5 L1740.1 1449.3 L1741.2 1448.1 L1742.3 1447.2 L1743.5 1448.0 L1744.6 1449.3 L1745.7 1449.8 L1746.8 1449.0 L1748.0 1448.2 L1749.1 1449.2 L1750.2 1449.3 L1751.3 1449.0 L1752.4 1448.1 L1753.6 1448.7 L1754.7 1449.0 L1755.8 1448.9 L1756.9 1448.9 L1758.1 1450.0 L1759.2 1450.2 L1760.3 1449.7 L1761.4 1448.9 L1762.6 1448.6 L1763.7 1449.1 L1764.8 1449.2 L1765.9 1449.8 L1767.0 1449.2 L1768.2 1448.4 L1769.3 1448.4 L1770.4 1447.7 L1771.5 1447.7 L1772.7 1447.2 L1773.8 1447.9 L1774.9 1447.8 L1776.0 1448.3 L1777.1 1448.6 L1778.3 1450.0 L1779.4 1449.7 L1780.5 1448.9 L1781.6 1448.2 L1782.8 1448.2 L1783.9 1448.9 L1785.0 1449.1 L1786.1 1450.0 L1787.3 1449.4 L1788.4 1449.7 L1789.5 1449.5 L1790.6 1450.4 L1791.7 1450.6 L1792.9 1449.6 L1794.0 1448.7 L1795.1 1449.0 L1796.2 1448.9 L1797.4 1449.0 L1798.5 1448.6 L1799.6 1449.7 L1800.7 1450.5 L1801.8 1450.5 L1803.0 1449.6 L1804.1 1449.4 L1805.2 1450.1 L1806.3 1450.1 L1807.5 1450.6 L1808.6 1449.2 L1809.7 1449.8 L1810.8 1449.4 L1811.9 1450.2 L1813.1 1449.8 L1814.2 1448.7 L1815.3 1447.8 L1816.4 1447.2 L1817.6 1447.6 L1818.7 1448.6 L1819.8 1449.0 L1820.9 1449.2 L1822.1 1448.7 L1823.2 1447.8 L1824.3 1447.5 L1825.4 1446.9 L1826.5 1447.0 L1827.7 1446.9 L1828.8 1445.4 L1829.9 1443.2 L1831.0 1440.9 L1832.2 1440.3 L1833.3 1440.7 L1834.4 1439.1 L1835.5 1436.3 L1836.6 1433.0 L1837.8 1430.9 L1838.9 1429.1 L1840.0 1427.3 L1841.1 1426.8 L1842.3 1426.2 L1843.4 1426.1 L1844.5 1426.9 L1845.6 1428.4 L1846.8 1430.6 L1847.9 1431.3 L1849.0 1432.4 L1850.1 1434.0 L1851.2 1436.7 L1852.4 1438.1 L1853.5 1438.9 L1854.6 1438.7 L1855.7 1441.2 L1856.9 1442.0 L1858.0 1442.5 L1859.1 1441.6 L1860.2 1442.6 L1861.3 1443.7 L1862.5 1444.8 L1863.6 1444.1 L1864.7 1443.4 L1865.8 1442.9 L1867.0 1443.6 L1868.1 1443.2 L1869.2 1443.1 L1870.3 1441.8 L1871.5 1442.0 L1872.6 1441.2 L1873.7 1441.4 L1874.8 1442.4 L1875.9 1443.7 L1877.1 1444.1 L1878.2 1444.9 L1879.3 1445.5 L1880.4 1446.4 L1881.6 1446.0 L1882.7 1446.4 L1883.8 1447.9 L1884.9 1449.4 L1886.0 1449.7 L1887.2 1449.0 L1888.3 1447.3 L1889.4 1447.9 L1890.5 1447.6 L1891.7 1448.6 L1892.8 1449.0 L1893.9 1450.0 L1895.0 1450.3 L1896.2 1449.8 L1897.3 1449.5 L1898.4 1449.4 L1899.5 1449.5 L1900.6 1449.3 L1901.8 1449.8 L1902.9 1449.7 L1904.0 1449.7 L1905.1 1449.7 L1906.3 1449.3 L1907.4 1448.8 L1908.5 1448.5 L1909.6 1448.7 L1910.7 1449.2 L1911.9 1449.4 L1913.0 1448.8 L1914.1 1449.8 L1915.2 1449.3 L1916.4 1450.1 L1917.5 1449.8 L1918.6 1449.3 L1919.7 1449.5 L1920.8 1448.2 L1922.0 1448.8 L1923.1 1447.7 L1924.2 1449.0 L1925.3 1448.7 L1926.5 1448.7 L1927.6 1448.3 L1928.7 1449.0 L1929.8 1448.5 L1931.0 1448.4 L1932.1 1448.5 L1933.2 1450.0 L1934.3 1449.9 L1935.4 1449.5 L1936.6 1449.1 L1937.7 1448.5 L1938.8 1448.8 L1939.9 1448.7 L1941.1 1448.8 L1942.2 1449.2 L1943.3 1448.9 L1944.4 1448.7 L1945.5 1448.9 L1946.7 1449.9 L1947.8 1451.3 L1948.9 1451.6 L1950.0 1450.8 L1951.2 1451.2 L1952.3 1450.1 L1953.4 1449.6 L1954.5 1449.5 L1955.7 1449.9 L1956.8 1451.5 L1957.9 1450.4 L1959.0 1450.6 L1960.1 1449.8 L1961.3 1450.1 L1962.4 1449.5 L1963.5 1449.5 L1964.6 1449.6 L1965.8 1450.1 L1966.9 1449.9 L1968.0 1450.4 L1969.1 1450.1 L1970.2 1451.1 L1971.4 1450.8 L1972.5 1449.9 L1973.6 1448.9 L1974.7 1449.3 L1975.9 1450.1 L1977.0 1450.6 L1978.1 1450.8 L1979.2 1451.3 L1980.4 1450.5 L1981.5 1449.5 L1982.6 1449.2 L1983.7 1450.0" fill="none" stroke="#00ff00" stroke-width="6.3" stroke-linejoin="round"/>
<circle cx="440.6" cy="1359.4" r="15.3" fill="#00f000"/>
<path d="M1616 1191 H1757.5" stroke="#00ff00" stroke-width="6.3"/>
<text transform="translate(1771.8 1213.6) scale(0.945 1)" font-size="61.0" font-weight="bold" fill="#000"><tspan dy="0.0">TiO</tspan><tspan font-size="42.7" dy="18.9">2</tspan><tspan dy="-18.9">-Fe</tspan><tspan font-size="42.7" dy="18.9">3</tspan><tspan dy="-18.9">O</tspan><tspan font-size="42.7" dy="18.9">4</tspan></text>
<text transform="translate(66.5 745) rotate(-90) scale(0.957 1)" font-size="64.5" font-weight="bold" text-anchor="middle" fill="#000" stroke="#000" stroke-width="1.4">Intensity (a.u.)</text>
<text x="0.0" y="0.0" font-size="74.0" fill="#000" transform="translate(912.0 1670.5) scale(0.950 1)" font-weight="bold" stroke="#000" stroke-width="0.8">2</text>
<text x="0.0" y="0.0" font-size="70.0" fill="#000" transform="translate(954.5 1670.5) scale(0.920 1)" font-family='"Liberation Serif", serif' stroke="#000" stroke-width="1.3">&#920;</text>
<text x="1017.4" y="1670.5" font-size="69.0" fill="#000" font-family='"Liberation Serif", serif' stroke="#000" stroke-width="0.5">(</text>
<text x="1042.2" y="1670.5" font-size="69.4" fill="#000" font-weight="bold" stroke="#000" stroke-width="0.8">degree)</text>
</g></svg>
</body></html>
